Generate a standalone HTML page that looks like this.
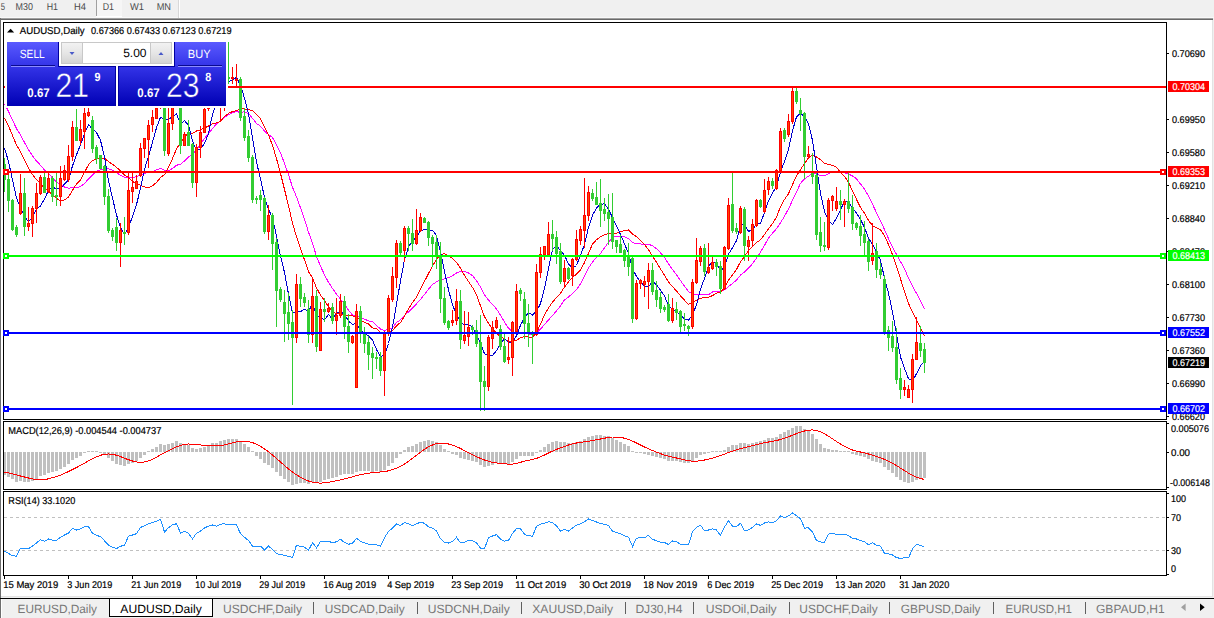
<!DOCTYPE html>
<html><head><meta charset="utf-8"><style>
html,body{margin:0;padding:0;width:1214px;height:618px;overflow:hidden;background:#F0F0F0;font-family:"Liberation Sans", sans-serif;}
</style></head><body>
<svg width="1214" height="618" viewBox="0 0 1214 618" style="display:block;font-family:&quot;Liberation Sans&quot;, sans-serif" text-rendering="geometricPrecision"><rect x="0" y="0" width="1214" height="618" fill="#F0F0F0"/>
<rect x="1" y="20" width="1211" height="577" fill="#FFFFFF"/>
<rect x="0" y="17" width="1214" height="1" fill="#F8F8F8"/>
<rect x="0" y="18" width="1213" height="1" fill="#A0A0A0"/>
<rect x="0" y="19" width="1213" height="1" fill="#696969"/>
<rect x="0" y="18" width="1" height="580" fill="#6E6E6E"/>
<rect x="1212" y="20" width="1" height="577" fill="#E3E3E3"/>
<rect x="1" y="596" width="1211" height="1" fill="#E3E3E3"/>
<rect x="0" y="598" width="1214" height="1" fill="#000000"/>
<rect x="96" y="0" width="1" height="16" fill="#A0A0A0"/>
<rect x="97" y="0" width="25" height="16" fill="#F6F6F6"/>
<rect x="96" y="16" width="26" height="1" fill="#FFFFFF"/>
<rect x="179" y="0" width="1" height="18" fill="#FFFFFF"/>
<rect x="178" y="0" width="1" height="18" fill="#D8D8D8"/>
<text x="0.7" y="10" font-size="10" fill="#4A4A4A" font-weight="normal" text-anchor="start" textLength="4.3" lengthAdjust="spacingAndGlyphs">5</text>
<text x="15.6" y="10" font-size="10" fill="#4A4A4A" font-weight="normal" text-anchor="start" textLength="17.4" lengthAdjust="spacingAndGlyphs">M30</text>
<text x="46.7" y="10" font-size="10" fill="#4A4A4A" font-weight="normal" text-anchor="start" textLength="11.3" lengthAdjust="spacingAndGlyphs">H1</text>
<text x="74" y="10" font-size="10" fill="#4A4A4A" font-weight="normal" text-anchor="start" textLength="12" lengthAdjust="spacingAndGlyphs">H4</text>
<text x="102.7" y="10" font-size="10" fill="#4A4A4A" font-weight="normal" text-anchor="start" textLength="11.3" lengthAdjust="spacingAndGlyphs">D1</text>
<text x="130" y="10" font-size="10" fill="#4A4A4A" font-weight="normal" text-anchor="start" textLength="14" lengthAdjust="spacingAndGlyphs">W1</text>
<text x="156.7" y="10" font-size="10" fill="#4A4A4A" font-weight="normal" text-anchor="start" textLength="14.3" lengthAdjust="spacingAndGlyphs">MN</text>
<g shape-rendering="crispEdges">
<rect x="3" y="22" width="1164" height="1" fill="#000"/>
<rect x="3" y="419" width="1164" height="1" fill="#000"/>
<rect x="3" y="22" width="1" height="398" fill="#000"/>
<rect x="1166" y="22" width="1" height="398" fill="#000"/>
<rect x="3" y="421" width="1164" height="1" fill="#000"/>
<rect x="3" y="489" width="1164" height="1" fill="#000"/>
<rect x="3" y="421" width="1" height="69" fill="#000"/>
<rect x="1166" y="421" width="1" height="69" fill="#000"/>
<rect x="3" y="491" width="1164" height="1" fill="#000"/>
<rect x="3" y="575" width="1164" height="1" fill="#000"/>
<rect x="3" y="491" width="1" height="85" fill="#000"/>
<rect x="1166" y="491" width="1" height="85" fill="#000"/>
</g>
<g clip-path="url(#mainclip)">
<polyline points="4.5,103.9 8.5,111.4 12.5,120.0 16.5,128.6 20.5,134.9 24.5,142.5 28.5,149.7 32.5,155.9 36.5,161.1 40.5,165.2 44.5,169.9 48.5,173.6 52.5,177.9 56.5,181.9 60.5,184.8 64.5,187.0 68.5,188.2 72.5,187.7 76.5,187.5 80.5,186.7 84.5,183.4 88.5,179.0 92.5,174.9 96.5,171.2 100.5,169.9 104.5,168.4 108.5,168.8 112.5,170.2 116.5,172.6 120.5,175.2 124.5,177.3 128.5,177.9 132.5,177.4 136.5,176.7 140.5,175.2 144.5,173.6 148.5,172.1 152.5,171.6 156.5,169.9 160.5,168.3 164.5,170.2 168.5,170.7 172.5,168.5 176.5,165.3 180.5,164.2 184.5,161.1 188.5,156.8 192.5,154.2 196.5,149.4 200.5,144.5 204.5,138.3 208.5,133.6 212.5,128.5 216.5,124.0 220.5,120.5 224.5,117.2 228.5,114.9 232.5,112.9 236.5,111.5 240.5,112.5 244.5,111.8 248.5,113.5 252.5,118.3 256.5,123.5 260.5,126.2 264.5,131.1 268.5,134.6 272.5,137.6 276.5,144.8 280.5,153.1 284.5,163.3 288.5,174.7 292.5,187.2 296.5,196.8 300.5,207.9 304.5,219.3 308.5,232.2 312.5,243.1 316.5,256.4 320.5,266.1 324.5,274.8 328.5,282.3 332.5,288.4 336.5,294.1 340.5,299.2 344.5,304.0 348.5,310.3 352.5,314.9 356.5,316.0 360.5,317.7 364.5,319.2 368.5,320.8 372.5,321.8 376.5,325.4 380.5,329.1 384.5,330.6 388.5,328.8 392.5,327.8 396.5,322.6 400.5,319.8 404.5,315.6 408.5,311.9 412.5,308.0 416.5,303.8 420.5,299.6 424.5,294.4 428.5,289.1 432.5,284.5 436.5,281.8 440.5,280.0 444.5,278.9 448.5,277.6 452.5,275.8 456.5,272.9 460.5,271.4 464.5,271.5 468.5,272.9 472.5,275.6 476.5,280.6 480.5,287.1 484.5,294.9 488.5,300.1 492.5,304.4 496.5,308.9 500.5,315.3 504.5,322.2 508.5,328.2 512.5,332.2 516.5,333.9 520.5,333.7 524.5,333.8 528.5,334.0 532.5,334.7 536.5,333.2 540.5,329.0 544.5,324.6 548.5,319.9 552.5,315.4 556.5,310.9 560.5,305.9 564.5,299.9 568.5,297.0 572.5,293.6 576.5,289.6 580.5,283.7 584.5,276.4 588.5,268.1 592.5,261.9 596.5,257.6 600.5,253.4 604.5,247.9 608.5,242.2 612.5,237.6 616.5,236.3 620.5,236.2 624.5,236.9 628.5,238.5 632.5,242.5 636.5,244.0 640.5,243.9 644.5,244.6 648.5,244.2 652.5,245.8 656.5,248.8 660.5,252.8 664.5,257.4 668.5,263.9 672.5,269.4 676.5,274.8 680.5,280.6 684.5,286.1 688.5,291.6 692.5,293.7 696.5,294.4 700.5,294.2 704.5,294.8 708.5,294.8 712.5,292.0 716.5,291.1 720.5,291.6 724.5,289.9 728.5,286.6 732.5,283.6 736.5,280.1 740.5,275.1 744.5,271.9 748.5,267.9 752.5,263.8 756.5,258.1 760.5,252.2 764.5,245.4 768.5,238.1 772.5,233.2 776.5,228.7 780.5,222.8 784.5,216.2 788.5,208.9 792.5,200.3 796.5,192.1 800.5,183.3 804.5,178.8 808.5,176.2 812.5,173.6 816.5,173.7 820.5,175.6 824.5,175.6 828.5,173.6 832.5,172.2 836.5,172.2 840.5,172.2 844.5,172.7 848.5,174.1 852.5,175.9 856.5,178.8 860.5,184.0 864.5,189.2 868.5,196.2 872.5,204.3 876.5,212.7 880.5,220.8 884.5,229.5 888.5,238.7 892.5,247.2 896.5,254.4 900.5,261.6 904.5,268.7 908.5,278.1 912.5,286.3 916.5,293.4 920.5,300.6 924.5,308.7" fill="none" stroke="#FF00FF" stroke-width="1" shape-rendering="crispEdges"/>
<polyline points="4.5,117.7 8.5,125.8 12.5,135.4 16.5,145.1 20.5,151.7 24.5,160.1 28.5,168.1 32.5,174.6 36.5,179.8 40.5,183.6 44.5,188.0 48.5,191.0 52.5,194.9 56.5,198.5 60.5,200.6 64.5,200.0 68.5,197.1 72.5,190.3 76.5,184.0 80.5,179.8 84.5,172.2 88.5,164.8 92.5,160.8 96.5,158.5 100.5,157.9 104.5,158.2 108.5,161.6 112.5,164.3 116.5,167.4 120.5,170.8 124.5,175.0 128.5,177.3 132.5,181.3 136.5,184.0 140.5,185.3 144.5,187.0 148.5,187.8 152.5,185.8 156.5,182.4 160.5,177.6 164.5,174.6 168.5,167.4 172.5,158.6 176.5,148.8 180.5,143.2 184.5,136.6 188.5,133.6 192.5,133.2 196.5,131.0 200.5,129.9 204.5,128.0 208.5,126.0 212.5,123.9 216.5,122.8 220.5,121.5 224.5,116.4 228.5,113.4 232.5,111.6 236.5,110.6 240.5,108.7 244.5,108.9 248.5,109.7 252.5,110.8 256.5,114.3 260.5,118.8 264.5,126.9 268.5,134.9 272.5,145.4 276.5,158.6 280.5,173.4 284.5,189.4 288.5,205.7 292.5,223.0 296.5,236.7 300.5,248.8 304.5,259.8 308.5,271.6 312.5,278.0 316.5,287.8 320.5,295.2 324.5,300.5 328.5,306.7 332.5,311.8 336.5,313.5 340.5,313.6 344.5,314.5 348.5,315.7 352.5,315.6 356.5,317.4 360.5,319.8 364.5,322.5 368.5,323.8 372.5,327.9 376.5,328.7 380.5,332.8 384.5,334.2 388.5,333.5 392.5,330.6 396.5,325.8 400.5,322.5 404.5,316.0 408.5,308.8 412.5,302.6 416.5,297.2 420.5,289.4 424.5,281.4 428.5,273.6 432.5,266.0 436.5,259.2 440.5,254.4 444.5,253.7 448.5,255.6 452.5,258.6 456.5,262.4 460.5,268.2 464.5,275.4 468.5,281.6 472.5,287.4 476.5,294.9 480.5,305.8 484.5,316.8 488.5,323.4 492.5,329.0 496.5,333.3 500.5,336.5 504.5,339.1 508.5,341.1 512.5,341.2 516.5,340.6 520.5,337.5 524.5,336.7 528.5,337.0 532.5,337.4 536.5,332.6 540.5,324.2 544.5,314.8 548.5,308.0 552.5,302.0 556.5,297.6 560.5,293.2 564.5,287.0 568.5,281.8 572.5,277.6 576.5,274.1 580.5,269.8 584.5,262.6 588.5,253.3 592.5,244.2 596.5,239.7 600.5,236.8 604.5,234.6 608.5,233.5 612.5,233.7 616.5,233.2 620.5,231.3 624.5,230.8 628.5,230.0 632.5,233.9 636.5,236.8 640.5,240.2 644.5,244.6 648.5,249.8 652.5,256.0 656.5,262.4 660.5,268.9 664.5,275.3 668.5,282.1 672.5,286.6 676.5,291.0 680.5,295.9 684.5,300.2 688.5,304.4 692.5,302.0 696.5,300.4 700.5,298.3 704.5,297.6 708.5,297.4 712.5,295.5 716.5,293.3 720.5,292.0 724.5,287.8 728.5,280.2 732.5,275.0 736.5,269.6 740.5,261.7 744.5,256.4 748.5,250.5 752.5,246.6 756.5,242.6 760.5,239.8 764.5,234.4 768.5,228.7 772.5,223.6 776.5,217.2 780.5,206.7 784.5,199.4 788.5,193.8 792.5,184.6 796.5,175.9 800.5,169.6 804.5,163.6 808.5,157.9 812.5,154.7 816.5,157.0 820.5,159.6 824.5,163.3 828.5,164.6 832.5,165.3 836.5,167.4 840.5,172.2 844.5,176.4 848.5,182.2 852.5,191.0 856.5,199.4 860.5,207.6 864.5,213.3 868.5,220.4 872.5,225.6 876.5,227.9 880.5,229.8 884.5,235.5 888.5,244.6 892.5,254.7 896.5,266.6 900.5,278.9 904.5,291.3 908.5,303.4 912.5,312.4 916.5,320.1 920.5,327.8 924.5,335.8" fill="none" stroke="#FF0000" stroke-width="1" shape-rendering="crispEdges"/>
<polyline points="4.5,147.9 8.5,161.5 12.5,179.8 16.5,198.1 20.5,207.5 24.5,216.9 28.5,221.5 32.5,217.3 36.5,209.1 40.5,205.9 44.5,199.1 48.5,190.1 52.5,187.7 56.5,188.3 60.5,188.5 64.5,184.1 68.5,179.7 72.5,165.9 76.5,154.7 80.5,144.9 84.5,133.5 88.5,124.7 92.5,128.9 96.5,132.5 100.5,140.3 104.5,156.9 108.5,180.5 112.5,198.1 116.5,214.9 120.5,227.3 124.5,234.7 128.5,226.7 132.5,216.9 136.5,204.7 140.5,188.3 144.5,169.3 148.5,156.3 152.5,142.3 156.5,127.7 160.5,117.3 164.5,119.7 168.5,119.3 172.5,116.7 176.5,114.1 180.5,123.9 184.5,120.7 188.5,125.1 192.5,140.7 196.5,151.1 200.5,148.5 204.5,143.5 208.5,133.5 212.5,114.3 216.5,103.3 220.5,92.1 224.5,85.1 228.5,81.7 232.5,79.9 236.5,77.3 240.5,85.5 244.5,98.1 248.5,113.9 252.5,138.3 256.5,162.3 260.5,178.7 264.5,197.5 268.5,209.1 272.5,217.9 276.5,236.1 280.5,256.1 284.5,272.5 288.5,294.1 292.5,312.9 296.5,311.7 300.5,311.5 304.5,309.3 308.5,311.5 312.5,303.3 316.5,315.7 320.5,317.9 324.5,319.7 328.5,314.5 332.5,319.3 336.5,313.1 340.5,311.5 344.5,314.5 348.5,321.1 352.5,324.3 356.5,323.5 360.5,329.9 364.5,333.3 368.5,335.9 372.5,340.1 376.5,349.5 380.5,356.9 384.5,354.7 388.5,343.5 392.5,327.3 396.5,304.3 400.5,280.7 404.5,259.9 408.5,246.9 412.5,240.3 416.5,237.7 420.5,230.7 424.5,229.5 428.5,230.3 432.5,230.3 436.5,235.5 440.5,251.7 444.5,271.7 448.5,289.7 452.5,305.1 456.5,314.1 460.5,322.3 464.5,324.9 468.5,324.9 472.5,326.7 476.5,335.1 480.5,343.5 484.5,353.7 488.5,355.7 492.5,355.3 496.5,350.7 500.5,343.7 504.5,338.7 508.5,342.7 512.5,341.7 516.5,335.9 520.5,325.3 524.5,317.7 528.5,312.7 532.5,315.1 536.5,311.3 540.5,303.5 544.5,288.1 548.5,268.5 552.5,249.3 556.5,245.5 560.5,250.9 564.5,255.3 568.5,264.1 572.5,268.3 576.5,265.5 580.5,255.1 584.5,244.5 588.5,227.3 592.5,215.1 596.5,208.1 600.5,204.3 604.5,203.9 608.5,209.1 612.5,217.7 616.5,226.1 620.5,234.5 624.5,243.9 628.5,253.5 632.5,268.9 636.5,276.3 640.5,281.9 644.5,286.1 648.5,286.9 652.5,281.5 656.5,284.7 660.5,290.3 664.5,295.9 668.5,305.9 672.5,309.3 676.5,311.9 680.5,315.5 684.5,318.7 688.5,320.3 692.5,315.1 696.5,304.7 700.5,289.1 704.5,278.3 708.5,266.1 712.5,262.1 716.5,263.3 720.5,271.3 724.5,266.5 728.5,254.1 732.5,247.7 736.5,240.7 740.5,224.7 744.5,224.3 748.5,231.3 752.5,230.1 756.5,223.9 760.5,223.5 764.5,212.5 768.5,200.7 772.5,192.9 776.5,186.9 780.5,171.9 784.5,161.5 788.5,149.5 792.5,130.7 796.5,116.9 800.5,113.3 804.5,116.9 808.5,123.5 812.5,140.5 816.5,167.1 820.5,193.5 824.5,211.5 828.5,220.7 832.5,224.7 836.5,218.1 840.5,209.9 844.5,200.9 848.5,202.5 852.5,207.9 856.5,213.1 860.5,219.3 864.5,227.5 868.5,238.1 872.5,244.1 876.5,252.5 880.5,260.3 884.5,278.1 888.5,293.3 892.5,312.1 896.5,334.1 900.5,357.1 904.5,368.3 908.5,378.7 912.5,381.1 916.5,373.7 920.5,365.9 924.5,360.9" fill="none" stroke="#0000CD" stroke-width="1" shape-rendering="crispEdges"/>
</g>
<g shape-rendering="crispEdges" clip-path="url(#mainclip)">
<defs><clipPath id="mainclip"><rect x="4" y="23" width="1162" height="396"/></clipPath><clipPath id="macdclip"><rect x="4" y="422" width="1162" height="67"/></clipPath><clipPath id="rsiclip"><rect x="4" y="492" width="1162" height="83"/></clipPath></defs>
<rect x="4" y="158" width="1" height="34" fill="#32CD32"/>
<rect x="3" y="164" width="3" height="16" fill="#32CD32"/>
<rect x="8" y="174" width="1" height="38" fill="#32CD32"/>
<rect x="7" y="179" width="3" height="22" fill="#32CD32"/>
<rect x="12" y="199" width="1" height="32" fill="#32CD32"/>
<rect x="11" y="200" width="3" height="30" fill="#32CD32"/>
<rect x="16" y="225" width="1" height="12" fill="#32CD32"/>
<rect x="15" y="227" width="3" height="8" fill="#32CD32"/>
<rect x="20" y="174" width="1" height="41" fill="#FF0000"/>
<rect x="19" y="193" width="3" height="21" fill="#FF0000"/>
<rect x="20" y="194" width="1" height="19" fill="#FF4500"/>
<rect x="24" y="178" width="1" height="58" fill="#32CD32"/>
<rect x="23" y="193" width="3" height="34" fill="#32CD32"/>
<rect x="28" y="207" width="1" height="24" fill="#FF0000"/>
<rect x="27" y="223" width="3" height="4" fill="#FF0000"/>
<rect x="28" y="224" width="1" height="2" fill="#FF4500"/>
<rect x="32" y="206" width="1" height="31" fill="#FF0000"/>
<rect x="31" y="208" width="3" height="16" fill="#FF0000"/>
<rect x="32" y="209" width="1" height="14" fill="#FF4500"/>
<rect x="36" y="183" width="1" height="40" fill="#FF0000"/>
<rect x="35" y="193" width="3" height="16" fill="#FF0000"/>
<rect x="36" y="194" width="1" height="14" fill="#FF4500"/>
<rect x="40" y="175" width="1" height="20" fill="#FF0000"/>
<rect x="39" y="177" width="3" height="17" fill="#FF0000"/>
<rect x="40" y="178" width="1" height="15" fill="#FF4500"/>
<rect x="44" y="171" width="1" height="22" fill="#32CD32"/>
<rect x="43" y="177" width="3" height="16" fill="#32CD32"/>
<rect x="48" y="173" width="1" height="20" fill="#FF0000"/>
<rect x="47" y="178" width="3" height="14" fill="#FF0000"/>
<rect x="48" y="179" width="1" height="12" fill="#FF4500"/>
<rect x="52" y="176" width="1" height="26" fill="#32CD32"/>
<rect x="51" y="178" width="3" height="19" fill="#32CD32"/>
<rect x="56" y="172" width="1" height="34" fill="#32CD32"/>
<rect x="55" y="195" width="3" height="2" fill="#32CD32"/>
<rect x="60" y="166" width="1" height="40" fill="#FF0000"/>
<rect x="59" y="178" width="3" height="19" fill="#FF0000"/>
<rect x="60" y="179" width="1" height="17" fill="#FF4500"/>
<rect x="64" y="165" width="1" height="16" fill="#FF0000"/>
<rect x="63" y="170" width="3" height="10" fill="#FF0000"/>
<rect x="64" y="171" width="1" height="8" fill="#FF4500"/>
<rect x="68" y="145" width="1" height="37" fill="#FF0000"/>
<rect x="67" y="156" width="3" height="24" fill="#FF0000"/>
<rect x="68" y="157" width="1" height="22" fill="#FF4500"/>
<rect x="72" y="121" width="1" height="40" fill="#FF0000"/>
<rect x="71" y="127" width="3" height="30" fill="#FF0000"/>
<rect x="72" y="128" width="1" height="28" fill="#FF4500"/>
<rect x="76" y="109" width="1" height="32" fill="#32CD32"/>
<rect x="75" y="127" width="3" height="14" fill="#32CD32"/>
<rect x="80" y="120" width="1" height="25" fill="#FF0000"/>
<rect x="79" y="129" width="3" height="12" fill="#FF0000"/>
<rect x="80" y="130" width="1" height="10" fill="#FF4500"/>
<rect x="84" y="108" width="1" height="41" fill="#FF0000"/>
<rect x="83" y="113" width="3" height="19" fill="#FF0000"/>
<rect x="84" y="114" width="1" height="17" fill="#FF4500"/>
<rect x="88" y="108" width="1" height="9" fill="#FF0000"/>
<rect x="87" y="112" width="3" height="4" fill="#FF0000"/>
<rect x="88" y="113" width="1" height="2" fill="#FF4500"/>
<rect x="92" y="116" width="1" height="37" fill="#32CD32"/>
<rect x="91" y="120" width="3" height="29" fill="#32CD32"/>
<rect x="96" y="145" width="1" height="19" fill="#32CD32"/>
<rect x="95" y="147" width="3" height="12" fill="#32CD32"/>
<rect x="100" y="155" width="1" height="14" fill="#32CD32"/>
<rect x="99" y="155" width="3" height="14" fill="#32CD32"/>
<rect x="104" y="165" width="1" height="40" fill="#32CD32"/>
<rect x="103" y="166" width="3" height="31" fill="#32CD32"/>
<rect x="108" y="189" width="1" height="44" fill="#32CD32"/>
<rect x="107" y="196" width="3" height="35" fill="#32CD32"/>
<rect x="112" y="228" width="1" height="13" fill="#32CD32"/>
<rect x="111" y="230" width="3" height="7" fill="#32CD32"/>
<rect x="116" y="218" width="1" height="33" fill="#32CD32"/>
<rect x="115" y="227" width="3" height="16" fill="#32CD32"/>
<rect x="120" y="223" width="1" height="44" fill="#FF0000"/>
<rect x="119" y="230" width="3" height="13" fill="#FF0000"/>
<rect x="120" y="231" width="1" height="11" fill="#FF4500"/>
<rect x="124" y="217" width="1" height="28" fill="#32CD32"/>
<rect x="123" y="232" width="3" height="2" fill="#32CD32"/>
<rect x="128" y="172" width="1" height="63" fill="#FF0000"/>
<rect x="127" y="190" width="3" height="43" fill="#FF0000"/>
<rect x="128" y="191" width="1" height="41" fill="#FF4500"/>
<rect x="132" y="172" width="1" height="31" fill="#FF0000"/>
<rect x="131" y="187" width="3" height="5" fill="#FF0000"/>
<rect x="132" y="188" width="1" height="3" fill="#FF4500"/>
<rect x="136" y="175" width="1" height="14" fill="#FF0000"/>
<rect x="135" y="181" width="3" height="8" fill="#FF0000"/>
<rect x="136" y="182" width="1" height="6" fill="#FF4500"/>
<rect x="140" y="143" width="1" height="34" fill="#FF0000"/>
<rect x="139" y="148" width="3" height="28" fill="#FF0000"/>
<rect x="140" y="149" width="1" height="26" fill="#FF4500"/>
<rect x="144" y="138" width="1" height="20" fill="#FF0000"/>
<rect x="143" y="138" width="3" height="11" fill="#FF0000"/>
<rect x="144" y="139" width="1" height="9" fill="#FF4500"/>
<rect x="148" y="120" width="1" height="48" fill="#FF0000"/>
<rect x="147" y="125" width="3" height="15" fill="#FF0000"/>
<rect x="148" y="126" width="1" height="13" fill="#FF4500"/>
<rect x="152" y="110" width="1" height="22" fill="#FF0000"/>
<rect x="151" y="117" width="3" height="8" fill="#FF0000"/>
<rect x="152" y="118" width="1" height="6" fill="#FF4500"/>
<rect x="156" y="104" width="1" height="15" fill="#FF0000"/>
<rect x="155" y="108" width="3" height="11" fill="#FF0000"/>
<rect x="156" y="109" width="1" height="9" fill="#FF4500"/>
<rect x="160" y="92" width="1" height="17" fill="#FF0000"/>
<rect x="159" y="96" width="3" height="9" fill="#FF0000"/>
<rect x="160" y="97" width="1" height="7" fill="#FF4500"/>
<rect x="164" y="94" width="1" height="62" fill="#32CD32"/>
<rect x="163" y="98" width="3" height="53" fill="#32CD32"/>
<rect x="168" y="108" width="1" height="48" fill="#FF0000"/>
<rect x="167" y="123" width="3" height="31" fill="#FF0000"/>
<rect x="168" y="124" width="1" height="29" fill="#FF4500"/>
<rect x="172" y="100" width="1" height="30" fill="#FF0000"/>
<rect x="171" y="104" width="3" height="20" fill="#FF0000"/>
<rect x="172" y="105" width="1" height="18" fill="#FF4500"/>
<rect x="176" y="90" width="1" height="17" fill="#FF0000"/>
<rect x="175" y="95" width="3" height="10" fill="#FF0000"/>
<rect x="176" y="96" width="1" height="8" fill="#FF4500"/>
<rect x="180" y="96" width="1" height="58" fill="#32CD32"/>
<rect x="179" y="100" width="3" height="46" fill="#32CD32"/>
<rect x="184" y="132" width="1" height="14" fill="#FF0000"/>
<rect x="183" y="134" width="3" height="12" fill="#FF0000"/>
<rect x="184" y="135" width="1" height="10" fill="#FF4500"/>
<rect x="188" y="120" width="1" height="26" fill="#32CD32"/>
<rect x="187" y="132" width="3" height="14" fill="#32CD32"/>
<rect x="192" y="143" width="1" height="45" fill="#32CD32"/>
<rect x="191" y="144" width="3" height="39" fill="#32CD32"/>
<rect x="196" y="144" width="1" height="53" fill="#FF0000"/>
<rect x="195" y="147" width="3" height="36" fill="#FF0000"/>
<rect x="196" y="148" width="1" height="34" fill="#FF4500"/>
<rect x="200" y="126" width="1" height="32" fill="#FF0000"/>
<rect x="199" y="132" width="3" height="16" fill="#FF0000"/>
<rect x="200" y="133" width="1" height="14" fill="#FF4500"/>
<rect x="204" y="100" width="1" height="33" fill="#FF0000"/>
<rect x="203" y="109" width="3" height="24" fill="#FF0000"/>
<rect x="204" y="110" width="1" height="22" fill="#FF4500"/>
<rect x="208" y="90" width="1" height="21" fill="#FF0000"/>
<rect x="207" y="95" width="3" height="14" fill="#FF0000"/>
<rect x="208" y="96" width="1" height="12" fill="#FF4500"/>
<rect x="212" y="82" width="1" height="19" fill="#FF0000"/>
<rect x="211" y="86" width="3" height="10" fill="#FF0000"/>
<rect x="212" y="87" width="1" height="8" fill="#FF4500"/>
<rect x="216" y="80" width="1" height="25" fill="#32CD32"/>
<rect x="215" y="86" width="3" height="7" fill="#32CD32"/>
<rect x="220" y="70" width="1" height="52" fill="#FF0000"/>
<rect x="219" y="76" width="3" height="11" fill="#FF0000"/>
<rect x="220" y="77" width="1" height="9" fill="#FF4500"/>
<rect x="224" y="70" width="1" height="41" fill="#FF0000"/>
<rect x="223" y="74" width="3" height="7" fill="#FF0000"/>
<rect x="224" y="75" width="1" height="5" fill="#FF4500"/>
<rect x="228" y="42" width="1" height="42" fill="#32CD32"/>
<rect x="227" y="77" width="3" height="2" fill="#32CD32"/>
<rect x="232" y="67" width="1" height="17" fill="#FF0000"/>
<rect x="231" y="77" width="3" height="2" fill="#FF0000"/>
<rect x="236" y="64" width="1" height="23" fill="#FF0000"/>
<rect x="235" y="79" width="3" height="2" fill="#FF0000"/>
<rect x="240" y="77" width="1" height="44" fill="#32CD32"/>
<rect x="239" y="79" width="3" height="39" fill="#32CD32"/>
<rect x="244" y="108" width="1" height="33" fill="#32CD32"/>
<rect x="243" y="116" width="3" height="22" fill="#32CD32"/>
<rect x="248" y="130" width="1" height="32" fill="#32CD32"/>
<rect x="247" y="136" width="3" height="22" fill="#32CD32"/>
<rect x="252" y="155" width="1" height="48" fill="#32CD32"/>
<rect x="251" y="157" width="3" height="43" fill="#32CD32"/>
<rect x="256" y="196" width="1" height="8" fill="#32CD32"/>
<rect x="255" y="198" width="3" height="2" fill="#32CD32"/>
<rect x="260" y="190" width="1" height="21" fill="#32CD32"/>
<rect x="259" y="195" width="3" height="5" fill="#32CD32"/>
<rect x="264" y="197" width="1" height="37" fill="#32CD32"/>
<rect x="263" y="198" width="3" height="34" fill="#32CD32"/>
<rect x="268" y="205" width="1" height="35" fill="#FF0000"/>
<rect x="267" y="215" width="3" height="17" fill="#FF0000"/>
<rect x="268" y="216" width="1" height="15" fill="#FF4500"/>
<rect x="272" y="213" width="1" height="57" fill="#32CD32"/>
<rect x="271" y="215" width="3" height="29" fill="#32CD32"/>
<rect x="276" y="238" width="1" height="89" fill="#32CD32"/>
<rect x="275" y="242" width="3" height="49" fill="#32CD32"/>
<rect x="280" y="287" width="1" height="15" fill="#32CD32"/>
<rect x="279" y="289" width="3" height="11" fill="#32CD32"/>
<rect x="284" y="290" width="1" height="52" fill="#32CD32"/>
<rect x="283" y="302" width="3" height="12" fill="#32CD32"/>
<rect x="288" y="293" width="1" height="47" fill="#32CD32"/>
<rect x="287" y="312" width="3" height="12" fill="#32CD32"/>
<rect x="292" y="310" width="1" height="95" fill="#32CD32"/>
<rect x="291" y="322" width="3" height="16" fill="#32CD32"/>
<rect x="296" y="274" width="1" height="69" fill="#FF0000"/>
<rect x="295" y="284" width="3" height="54" fill="#FF0000"/>
<rect x="296" y="285" width="1" height="52" fill="#FF4500"/>
<rect x="300" y="277" width="1" height="30" fill="#32CD32"/>
<rect x="299" y="284" width="3" height="15" fill="#32CD32"/>
<rect x="304" y="293" width="1" height="14" fill="#32CD32"/>
<rect x="303" y="297" width="3" height="6" fill="#32CD32"/>
<rect x="308" y="300" width="1" height="43" fill="#32CD32"/>
<rect x="307" y="309" width="3" height="26" fill="#32CD32"/>
<rect x="312" y="278" width="1" height="65" fill="#FF0000"/>
<rect x="311" y="296" width="3" height="39" fill="#FF0000"/>
<rect x="312" y="297" width="1" height="37" fill="#FF4500"/>
<rect x="316" y="290" width="1" height="62" fill="#32CD32"/>
<rect x="315" y="296" width="3" height="51" fill="#32CD32"/>
<rect x="320" y="302" width="1" height="49" fill="#FF0000"/>
<rect x="319" y="309" width="3" height="42" fill="#FF0000"/>
<rect x="320" y="310" width="1" height="40" fill="#FF4500"/>
<rect x="324" y="298" width="1" height="24" fill="#32CD32"/>
<rect x="323" y="309" width="3" height="3" fill="#32CD32"/>
<rect x="328" y="303" width="1" height="10" fill="#FF0000"/>
<rect x="327" y="308" width="3" height="4" fill="#FF0000"/>
<rect x="328" y="309" width="1" height="2" fill="#FF4500"/>
<rect x="332" y="303" width="1" height="21" fill="#32CD32"/>
<rect x="331" y="307" width="3" height="14" fill="#32CD32"/>
<rect x="336" y="298" width="1" height="37" fill="#FF0000"/>
<rect x="335" y="315" width="3" height="6" fill="#FF0000"/>
<rect x="336" y="316" width="1" height="4" fill="#FF4500"/>
<rect x="340" y="294" width="1" height="24" fill="#FF0000"/>
<rect x="339" y="301" width="3" height="15" fill="#FF0000"/>
<rect x="340" y="302" width="1" height="13" fill="#FF4500"/>
<rect x="344" y="296" width="1" height="43" fill="#32CD32"/>
<rect x="343" y="301" width="3" height="26" fill="#32CD32"/>
<rect x="348" y="314" width="1" height="39" fill="#32CD32"/>
<rect x="347" y="326" width="3" height="16" fill="#32CD32"/>
<rect x="352" y="335" width="1" height="9" fill="#FF0000"/>
<rect x="351" y="336" width="3" height="7" fill="#FF0000"/>
<rect x="352" y="337" width="1" height="5" fill="#FF4500"/>
<rect x="356" y="304" width="1" height="84" fill="#FF0000"/>
<rect x="355" y="311" width="3" height="77" fill="#FF0000"/>
<rect x="356" y="312" width="1" height="75" fill="#FF4500"/>
<rect x="360" y="306" width="1" height="37" fill="#32CD32"/>
<rect x="359" y="311" width="3" height="23" fill="#32CD32"/>
<rect x="364" y="327" width="1" height="26" fill="#32CD32"/>
<rect x="363" y="332" width="3" height="12" fill="#32CD32"/>
<rect x="368" y="336" width="1" height="34" fill="#32CD32"/>
<rect x="367" y="342" width="3" height="13" fill="#32CD32"/>
<rect x="372" y="347" width="1" height="32" fill="#32CD32"/>
<rect x="371" y="353" width="3" height="5" fill="#32CD32"/>
<rect x="376" y="352" width="1" height="17" fill="#32CD32"/>
<rect x="375" y="357" width="3" height="2" fill="#32CD32"/>
<rect x="380" y="352" width="1" height="24" fill="#32CD32"/>
<rect x="379" y="357" width="3" height="14" fill="#32CD32"/>
<rect x="384" y="331" width="1" height="65" fill="#FF0000"/>
<rect x="383" y="332" width="3" height="39" fill="#FF0000"/>
<rect x="384" y="333" width="1" height="37" fill="#FF4500"/>
<rect x="388" y="295" width="1" height="41" fill="#FF0000"/>
<rect x="387" y="298" width="3" height="35" fill="#FF0000"/>
<rect x="388" y="299" width="1" height="33" fill="#FF4500"/>
<rect x="392" y="267" width="1" height="35" fill="#FF0000"/>
<rect x="391" y="276" width="3" height="24" fill="#FF0000"/>
<rect x="392" y="277" width="1" height="22" fill="#FF4500"/>
<rect x="396" y="240" width="1" height="48" fill="#FF0000"/>
<rect x="395" y="243" width="3" height="35" fill="#FF0000"/>
<rect x="396" y="244" width="1" height="33" fill="#FF4500"/>
<rect x="400" y="241" width="1" height="14" fill="#32CD32"/>
<rect x="399" y="243" width="3" height="10" fill="#32CD32"/>
<rect x="404" y="226" width="1" height="36" fill="#FF0000"/>
<rect x="403" y="228" width="3" height="23" fill="#FF0000"/>
<rect x="404" y="229" width="1" height="21" fill="#FF4500"/>
<rect x="408" y="226" width="1" height="25" fill="#32CD32"/>
<rect x="407" y="228" width="3" height="6" fill="#32CD32"/>
<rect x="412" y="219" width="1" height="32" fill="#32CD32"/>
<rect x="411" y="233" width="3" height="11" fill="#32CD32"/>
<rect x="416" y="209" width="1" height="36" fill="#FF0000"/>
<rect x="415" y="230" width="3" height="14" fill="#FF0000"/>
<rect x="416" y="231" width="1" height="12" fill="#FF4500"/>
<rect x="420" y="213" width="1" height="19" fill="#FF0000"/>
<rect x="419" y="217" width="3" height="14" fill="#FF0000"/>
<rect x="420" y="218" width="1" height="12" fill="#FF4500"/>
<rect x="424" y="217" width="1" height="6" fill="#32CD32"/>
<rect x="423" y="218" width="3" height="5" fill="#32CD32"/>
<rect x="428" y="221" width="1" height="25" fill="#32CD32"/>
<rect x="427" y="222" width="3" height="16" fill="#32CD32"/>
<rect x="432" y="235" width="1" height="32" fill="#32CD32"/>
<rect x="431" y="237" width="3" height="7" fill="#32CD32"/>
<rect x="436" y="235" width="1" height="34" fill="#32CD32"/>
<rect x="435" y="242" width="3" height="15" fill="#32CD32"/>
<rect x="440" y="242" width="1" height="71" fill="#32CD32"/>
<rect x="439" y="255" width="3" height="44" fill="#32CD32"/>
<rect x="444" y="287" width="1" height="38" fill="#32CD32"/>
<rect x="443" y="298" width="3" height="25" fill="#32CD32"/>
<rect x="448" y="320" width="1" height="10" fill="#32CD32"/>
<rect x="447" y="321" width="3" height="7" fill="#32CD32"/>
<rect x="452" y="310" width="1" height="16" fill="#FF0000"/>
<rect x="451" y="320" width="3" height="3" fill="#FF0000"/>
<rect x="452" y="321" width="1" height="1" fill="#FF4500"/>
<rect x="456" y="289" width="1" height="36" fill="#FF0000"/>
<rect x="455" y="301" width="3" height="20" fill="#FF0000"/>
<rect x="456" y="302" width="1" height="18" fill="#FF4500"/>
<rect x="460" y="290" width="1" height="59" fill="#32CD32"/>
<rect x="459" y="301" width="3" height="39" fill="#32CD32"/>
<rect x="464" y="311" width="1" height="33" fill="#FF0000"/>
<rect x="463" y="335" width="3" height="6" fill="#FF0000"/>
<rect x="464" y="336" width="1" height="4" fill="#FF4500"/>
<rect x="468" y="312" width="1" height="34" fill="#FF0000"/>
<rect x="467" y="327" width="3" height="10" fill="#FF0000"/>
<rect x="468" y="328" width="1" height="8" fill="#FF4500"/>
<rect x="472" y="325" width="1" height="10" fill="#32CD32"/>
<rect x="471" y="327" width="3" height="3" fill="#32CD32"/>
<rect x="476" y="320" width="1" height="27" fill="#32CD32"/>
<rect x="475" y="330" width="3" height="14" fill="#32CD32"/>
<rect x="480" y="315" width="1" height="96" fill="#32CD32"/>
<rect x="479" y="342" width="3" height="40" fill="#32CD32"/>
<rect x="484" y="366" width="1" height="45" fill="#32CD32"/>
<rect x="483" y="381" width="3" height="6" fill="#32CD32"/>
<rect x="488" y="335" width="1" height="56" fill="#FF0000"/>
<rect x="487" y="337" width="3" height="50" fill="#FF0000"/>
<rect x="488" y="338" width="1" height="48" fill="#FF4500"/>
<rect x="492" y="321" width="1" height="28" fill="#FF0000"/>
<rect x="491" y="327" width="3" height="12" fill="#FF0000"/>
<rect x="492" y="328" width="1" height="10" fill="#FF4500"/>
<rect x="496" y="317" width="1" height="12" fill="#FF0000"/>
<rect x="495" y="320" width="3" height="8" fill="#FF0000"/>
<rect x="496" y="321" width="1" height="6" fill="#FF4500"/>
<rect x="500" y="325" width="1" height="25" fill="#32CD32"/>
<rect x="499" y="329" width="3" height="18" fill="#32CD32"/>
<rect x="504" y="332" width="1" height="31" fill="#32CD32"/>
<rect x="503" y="346" width="3" height="16" fill="#32CD32"/>
<rect x="508" y="337" width="1" height="27" fill="#FF0000"/>
<rect x="507" y="357" width="3" height="3" fill="#FF0000"/>
<rect x="508" y="358" width="1" height="1" fill="#FF4500"/>
<rect x="512" y="321" width="1" height="55" fill="#FF0000"/>
<rect x="511" y="322" width="3" height="36" fill="#FF0000"/>
<rect x="512" y="323" width="1" height="34" fill="#FF4500"/>
<rect x="516" y="284" width="1" height="49" fill="#FF0000"/>
<rect x="515" y="291" width="3" height="41" fill="#FF0000"/>
<rect x="516" y="292" width="1" height="39" fill="#FF4500"/>
<rect x="520" y="288" width="1" height="13" fill="#32CD32"/>
<rect x="519" y="290" width="3" height="4" fill="#32CD32"/>
<rect x="524" y="292" width="1" height="47" fill="#32CD32"/>
<rect x="523" y="299" width="3" height="25" fill="#32CD32"/>
<rect x="528" y="304" width="1" height="43" fill="#32CD32"/>
<rect x="527" y="323" width="3" height="10" fill="#32CD32"/>
<rect x="532" y="331" width="1" height="33" fill="#32CD32"/>
<rect x="531" y="332" width="3" height="3" fill="#32CD32"/>
<rect x="536" y="264" width="1" height="72" fill="#FF0000"/>
<rect x="535" y="272" width="3" height="63" fill="#FF0000"/>
<rect x="536" y="273" width="1" height="61" fill="#FF4500"/>
<rect x="540" y="247" width="1" height="31" fill="#FF0000"/>
<rect x="539" y="254" width="3" height="19" fill="#FF0000"/>
<rect x="540" y="255" width="1" height="17" fill="#FF4500"/>
<rect x="544" y="246" width="1" height="14" fill="#FF0000"/>
<rect x="543" y="246" width="3" height="9" fill="#FF0000"/>
<rect x="544" y="247" width="1" height="7" fill="#FF4500"/>
<rect x="548" y="222" width="1" height="34" fill="#FF0000"/>
<rect x="547" y="234" width="3" height="21" fill="#FF0000"/>
<rect x="548" y="235" width="1" height="19" fill="#FF4500"/>
<rect x="552" y="220" width="1" height="31" fill="#32CD32"/>
<rect x="551" y="234" width="3" height="5" fill="#32CD32"/>
<rect x="556" y="231" width="1" height="33" fill="#32CD32"/>
<rect x="555" y="237" width="3" height="17" fill="#32CD32"/>
<rect x="560" y="243" width="1" height="41" fill="#32CD32"/>
<rect x="559" y="251" width="3" height="31" fill="#32CD32"/>
<rect x="564" y="260" width="1" height="28" fill="#FF0000"/>
<rect x="563" y="268" width="3" height="14" fill="#FF0000"/>
<rect x="564" y="269" width="1" height="12" fill="#FF4500"/>
<rect x="568" y="267" width="1" height="13" fill="#32CD32"/>
<rect x="567" y="268" width="3" height="11" fill="#32CD32"/>
<rect x="572" y="258" width="1" height="28" fill="#FF0000"/>
<rect x="571" y="259" width="3" height="17" fill="#FF0000"/>
<rect x="572" y="260" width="1" height="15" fill="#FF4500"/>
<rect x="576" y="230" width="1" height="31" fill="#FF0000"/>
<rect x="575" y="239" width="3" height="21" fill="#FF0000"/>
<rect x="576" y="240" width="1" height="19" fill="#FF4500"/>
<rect x="580" y="226" width="1" height="19" fill="#FF0000"/>
<rect x="579" y="229" width="3" height="12" fill="#FF0000"/>
<rect x="580" y="230" width="1" height="10" fill="#FF4500"/>
<rect x="584" y="178" width="1" height="70" fill="#FF0000"/>
<rect x="583" y="215" width="3" height="16" fill="#FF0000"/>
<rect x="584" y="216" width="1" height="14" fill="#FF4500"/>
<rect x="588" y="186" width="1" height="35" fill="#FF0000"/>
<rect x="587" y="192" width="3" height="24" fill="#FF0000"/>
<rect x="588" y="193" width="1" height="22" fill="#FF4500"/>
<rect x="592" y="189" width="1" height="12" fill="#32CD32"/>
<rect x="591" y="193" width="3" height="6" fill="#32CD32"/>
<rect x="596" y="182" width="1" height="23" fill="#32CD32"/>
<rect x="595" y="197" width="3" height="8" fill="#32CD32"/>
<rect x="600" y="179" width="1" height="48" fill="#32CD32"/>
<rect x="599" y="203" width="3" height="8" fill="#32CD32"/>
<rect x="604" y="198" width="1" height="23" fill="#32CD32"/>
<rect x="603" y="209" width="3" height="5" fill="#32CD32"/>
<rect x="608" y="194" width="1" height="51" fill="#32CD32"/>
<rect x="607" y="212" width="3" height="7" fill="#32CD32"/>
<rect x="612" y="193" width="1" height="56" fill="#32CD32"/>
<rect x="611" y="217" width="3" height="25" fill="#32CD32"/>
<rect x="616" y="240" width="1" height="13" fill="#32CD32"/>
<rect x="615" y="240" width="3" height="7" fill="#32CD32"/>
<rect x="620" y="235" width="1" height="18" fill="#32CD32"/>
<rect x="619" y="244" width="3" height="9" fill="#32CD32"/>
<rect x="624" y="249" width="1" height="18" fill="#32CD32"/>
<rect x="623" y="250" width="3" height="11" fill="#32CD32"/>
<rect x="628" y="243" width="1" height="33" fill="#32CD32"/>
<rect x="627" y="255" width="3" height="12" fill="#32CD32"/>
<rect x="632" y="256" width="1" height="67" fill="#32CD32"/>
<rect x="631" y="258" width="3" height="61" fill="#32CD32"/>
<rect x="636" y="280" width="1" height="40" fill="#FF0000"/>
<rect x="635" y="283" width="3" height="36" fill="#FF0000"/>
<rect x="636" y="284" width="1" height="34" fill="#FF4500"/>
<rect x="640" y="279" width="1" height="10" fill="#FF0000"/>
<rect x="639" y="280" width="3" height="4" fill="#FF0000"/>
<rect x="640" y="281" width="1" height="2" fill="#FF4500"/>
<rect x="644" y="276" width="1" height="21" fill="#FF0000"/>
<rect x="643" y="281" width="3" height="4" fill="#FF0000"/>
<rect x="644" y="282" width="1" height="2" fill="#FF4500"/>
<rect x="648" y="263" width="1" height="46" fill="#FF0000"/>
<rect x="647" y="270" width="3" height="12" fill="#FF0000"/>
<rect x="648" y="271" width="1" height="10" fill="#FF4500"/>
<rect x="652" y="263" width="1" height="32" fill="#32CD32"/>
<rect x="651" y="270" width="3" height="22" fill="#32CD32"/>
<rect x="656" y="281" width="1" height="26" fill="#32CD32"/>
<rect x="655" y="290" width="3" height="10" fill="#32CD32"/>
<rect x="660" y="292" width="1" height="21" fill="#32CD32"/>
<rect x="659" y="297" width="3" height="12" fill="#32CD32"/>
<rect x="664" y="305" width="1" height="7" fill="#32CD32"/>
<rect x="663" y="307" width="3" height="3" fill="#32CD32"/>
<rect x="668" y="294" width="1" height="28" fill="#32CD32"/>
<rect x="667" y="304" width="3" height="17" fill="#32CD32"/>
<rect x="672" y="298" width="1" height="25" fill="#FF0000"/>
<rect x="671" y="308" width="3" height="13" fill="#FF0000"/>
<rect x="672" y="309" width="1" height="11" fill="#FF4500"/>
<rect x="676" y="302" width="1" height="18" fill="#32CD32"/>
<rect x="675" y="309" width="3" height="4" fill="#32CD32"/>
<rect x="680" y="310" width="1" height="22" fill="#32CD32"/>
<rect x="679" y="311" width="3" height="16" fill="#32CD32"/>
<rect x="684" y="313" width="1" height="18" fill="#32CD32"/>
<rect x="683" y="324" width="3" height="2" fill="#32CD32"/>
<rect x="688" y="325" width="1" height="11" fill="#32CD32"/>
<rect x="687" y="326" width="3" height="3" fill="#32CD32"/>
<rect x="692" y="279" width="1" height="50" fill="#FF0000"/>
<rect x="691" y="282" width="3" height="45" fill="#FF0000"/>
<rect x="692" y="283" width="1" height="43" fill="#FF4500"/>
<rect x="696" y="238" width="1" height="46" fill="#FF0000"/>
<rect x="695" y="260" width="3" height="23" fill="#FF0000"/>
<rect x="696" y="261" width="1" height="21" fill="#FF4500"/>
<rect x="700" y="246" width="1" height="20" fill="#FF0000"/>
<rect x="699" y="248" width="3" height="14" fill="#FF0000"/>
<rect x="700" y="249" width="1" height="12" fill="#FF4500"/>
<rect x="704" y="244" width="1" height="32" fill="#32CD32"/>
<rect x="703" y="248" width="3" height="24" fill="#32CD32"/>
<rect x="708" y="243" width="1" height="31" fill="#FF0000"/>
<rect x="707" y="267" width="3" height="6" fill="#FF0000"/>
<rect x="708" y="268" width="1" height="4" fill="#FF4500"/>
<rect x="712" y="256" width="1" height="14" fill="#FF0000"/>
<rect x="711" y="262" width="3" height="7" fill="#FF0000"/>
<rect x="712" y="263" width="1" height="5" fill="#FF4500"/>
<rect x="716" y="259" width="1" height="17" fill="#32CD32"/>
<rect x="715" y="262" width="3" height="5" fill="#32CD32"/>
<rect x="720" y="261" width="1" height="33" fill="#32CD32"/>
<rect x="719" y="266" width="3" height="23" fill="#32CD32"/>
<rect x="724" y="246" width="1" height="44" fill="#FF0000"/>
<rect x="723" y="247" width="3" height="42" fill="#FF0000"/>
<rect x="724" y="248" width="1" height="40" fill="#FF4500"/>
<rect x="728" y="198" width="1" height="52" fill="#FF0000"/>
<rect x="727" y="205" width="3" height="44" fill="#FF0000"/>
<rect x="728" y="206" width="1" height="42" fill="#FF4500"/>
<rect x="732" y="172" width="1" height="61" fill="#32CD32"/>
<rect x="731" y="204" width="3" height="27" fill="#32CD32"/>
<rect x="736" y="223" width="1" height="11" fill="#32CD32"/>
<rect x="735" y="228" width="3" height="4" fill="#32CD32"/>
<rect x="740" y="206" width="1" height="28" fill="#FF0000"/>
<rect x="739" y="208" width="3" height="25" fill="#FF0000"/>
<rect x="740" y="209" width="1" height="23" fill="#FF4500"/>
<rect x="744" y="207" width="1" height="54" fill="#32CD32"/>
<rect x="743" y="209" width="3" height="37" fill="#32CD32"/>
<rect x="748" y="236" width="1" height="25" fill="#FF0000"/>
<rect x="747" y="240" width="3" height="7" fill="#FF0000"/>
<rect x="748" y="241" width="1" height="5" fill="#FF4500"/>
<rect x="752" y="219" width="1" height="27" fill="#FF0000"/>
<rect x="751" y="224" width="3" height="17" fill="#FF0000"/>
<rect x="752" y="225" width="1" height="15" fill="#FF4500"/>
<rect x="756" y="199" width="1" height="28" fill="#FF0000"/>
<rect x="755" y="200" width="3" height="26" fill="#FF0000"/>
<rect x="756" y="201" width="1" height="24" fill="#FF4500"/>
<rect x="760" y="199" width="1" height="9" fill="#32CD32"/>
<rect x="759" y="200" width="3" height="7" fill="#32CD32"/>
<rect x="764" y="179" width="1" height="34" fill="#FF0000"/>
<rect x="763" y="190" width="3" height="22" fill="#FF0000"/>
<rect x="764" y="191" width="1" height="20" fill="#FF4500"/>
<rect x="768" y="177" width="1" height="18" fill="#FF0000"/>
<rect x="767" y="181" width="3" height="9" fill="#FF0000"/>
<rect x="768" y="182" width="1" height="7" fill="#FF4500"/>
<rect x="772" y="178" width="1" height="11" fill="#32CD32"/>
<rect x="771" y="181" width="3" height="5" fill="#32CD32"/>
<rect x="776" y="169" width="1" height="21" fill="#FF0000"/>
<rect x="775" y="170" width="3" height="19" fill="#FF0000"/>
<rect x="776" y="171" width="1" height="17" fill="#FF4500"/>
<rect x="780" y="128" width="1" height="44" fill="#FF0000"/>
<rect x="779" y="131" width="3" height="40" fill="#FF0000"/>
<rect x="780" y="132" width="1" height="38" fill="#FF4500"/>
<rect x="784" y="128" width="1" height="14" fill="#32CD32"/>
<rect x="783" y="130" width="3" height="9" fill="#32CD32"/>
<rect x="788" y="114" width="1" height="23" fill="#FF0000"/>
<rect x="787" y="121" width="3" height="14" fill="#FF0000"/>
<rect x="788" y="122" width="1" height="12" fill="#FF4500"/>
<rect x="792" y="87" width="1" height="37" fill="#FF0000"/>
<rect x="791" y="91" width="3" height="31" fill="#FF0000"/>
<rect x="792" y="92" width="1" height="29" fill="#FF4500"/>
<rect x="796" y="87" width="1" height="17" fill="#32CD32"/>
<rect x="795" y="91" width="3" height="11" fill="#32CD32"/>
<rect x="800" y="98" width="1" height="33" fill="#32CD32"/>
<rect x="799" y="110" width="3" height="4" fill="#32CD32"/>
<rect x="804" y="112" width="1" height="67" fill="#32CD32"/>
<rect x="803" y="113" width="3" height="44" fill="#32CD32"/>
<rect x="808" y="146" width="1" height="12" fill="#FF0000"/>
<rect x="807" y="154" width="3" height="3" fill="#FF0000"/>
<rect x="808" y="155" width="1" height="1" fill="#FF4500"/>
<rect x="812" y="153" width="1" height="31" fill="#32CD32"/>
<rect x="811" y="172" width="3" height="5" fill="#32CD32"/>
<rect x="816" y="171" width="1" height="69" fill="#32CD32"/>
<rect x="815" y="175" width="3" height="60" fill="#32CD32"/>
<rect x="820" y="217" width="1" height="35" fill="#32CD32"/>
<rect x="819" y="232" width="3" height="14" fill="#32CD32"/>
<rect x="824" y="222" width="1" height="29" fill="#32CD32"/>
<rect x="823" y="245" width="3" height="2" fill="#32CD32"/>
<rect x="828" y="198" width="1" height="52" fill="#FF0000"/>
<rect x="827" y="200" width="3" height="48" fill="#FF0000"/>
<rect x="828" y="201" width="1" height="46" fill="#FF4500"/>
<rect x="832" y="195" width="1" height="16" fill="#FF0000"/>
<rect x="831" y="196" width="3" height="5" fill="#FF0000"/>
<rect x="832" y="197" width="1" height="3" fill="#FF4500"/>
<rect x="836" y="187" width="1" height="24" fill="#FF0000"/>
<rect x="835" y="201" width="3" height="8" fill="#FF0000"/>
<rect x="836" y="202" width="1" height="6" fill="#FF4500"/>
<rect x="840" y="190" width="1" height="30" fill="#32CD32"/>
<rect x="839" y="201" width="3" height="4" fill="#32CD32"/>
<rect x="844" y="199" width="1" height="28" fill="#FF0000"/>
<rect x="843" y="201" width="3" height="4" fill="#FF0000"/>
<rect x="844" y="202" width="1" height="2" fill="#FF4500"/>
<rect x="848" y="173" width="1" height="40" fill="#32CD32"/>
<rect x="847" y="201" width="3" height="8" fill="#32CD32"/>
<rect x="852" y="195" width="1" height="35" fill="#32CD32"/>
<rect x="851" y="207" width="3" height="17" fill="#32CD32"/>
<rect x="856" y="222" width="1" height="8" fill="#32CD32"/>
<rect x="855" y="223" width="3" height="5" fill="#32CD32"/>
<rect x="860" y="215" width="1" height="31" fill="#32CD32"/>
<rect x="859" y="226" width="3" height="10" fill="#32CD32"/>
<rect x="864" y="221" width="1" height="35" fill="#32CD32"/>
<rect x="863" y="234" width="3" height="9" fill="#32CD32"/>
<rect x="868" y="239" width="1" height="32" fill="#32CD32"/>
<rect x="867" y="241" width="3" height="21" fill="#32CD32"/>
<rect x="872" y="223" width="1" height="42" fill="#FF0000"/>
<rect x="871" y="253" width="3" height="8" fill="#FF0000"/>
<rect x="872" y="254" width="1" height="6" fill="#FF4500"/>
<rect x="876" y="243" width="1" height="35" fill="#32CD32"/>
<rect x="875" y="251" width="3" height="19" fill="#32CD32"/>
<rect x="880" y="263" width="1" height="16" fill="#32CD32"/>
<rect x="879" y="269" width="3" height="6" fill="#32CD32"/>
<rect x="884" y="275" width="1" height="60" fill="#32CD32"/>
<rect x="883" y="279" width="3" height="53" fill="#32CD32"/>
<rect x="888" y="326" width="1" height="25" fill="#32CD32"/>
<rect x="887" y="330" width="3" height="8" fill="#32CD32"/>
<rect x="892" y="321" width="1" height="31" fill="#32CD32"/>
<rect x="891" y="336" width="3" height="12" fill="#32CD32"/>
<rect x="896" y="328" width="1" height="56" fill="#32CD32"/>
<rect x="895" y="347" width="3" height="33" fill="#32CD32"/>
<rect x="900" y="368" width="1" height="31" fill="#32CD32"/>
<rect x="899" y="378" width="3" height="12" fill="#32CD32"/>
<rect x="904" y="380" width="1" height="16" fill="#FF0000"/>
<rect x="903" y="387" width="3" height="3" fill="#FF0000"/>
<rect x="904" y="388" width="1" height="1" fill="#FF4500"/>
<rect x="908" y="385" width="1" height="13" fill="#FF0000"/>
<rect x="907" y="389" width="3" height="9" fill="#FF0000"/>
<rect x="908" y="390" width="1" height="7" fill="#FF4500"/>
<rect x="912" y="354" width="1" height="49" fill="#FF0000"/>
<rect x="911" y="359" width="3" height="31" fill="#FF0000"/>
<rect x="912" y="360" width="1" height="29" fill="#FF4500"/>
<rect x="916" y="317" width="1" height="43" fill="#FF0000"/>
<rect x="915" y="342" width="3" height="18" fill="#FF0000"/>
<rect x="916" y="343" width="1" height="16" fill="#FF4500"/>
<rect x="920" y="326" width="1" height="31" fill="#32CD32"/>
<rect x="919" y="343" width="3" height="8" fill="#32CD32"/>
<rect x="924" y="343" width="1" height="30" fill="#32CD32"/>
<rect x="923" y="349" width="3" height="14" fill="#32CD32"/>
</g>
<g shape-rendering="crispEdges">
<rect x="4" y="86" width="1162" height="2" fill="#FF0000"/>
<rect x="4" y="171" width="1162" height="2" fill="#FF0000"/>
<rect x="3" y="169" width="6" height="6" fill="#FF0000"/>
<rect x="5" y="171" width="2" height="2" fill="#FFFFFF"/>
<rect x="1160" y="169" width="6" height="6" fill="#FF0000"/>
<rect x="1162" y="171" width="2" height="2" fill="#FFFFFF"/>
<rect x="4" y="255" width="1162" height="2" fill="#00FF00"/>
<rect x="3" y="253" width="6" height="6" fill="#00FF00"/>
<rect x="5" y="255" width="2" height="2" fill="#FFFFFF"/>
<rect x="1160" y="253" width="6" height="6" fill="#00FF00"/>
<rect x="1162" y="255" width="2" height="2" fill="#FFFFFF"/>
<rect x="4" y="332" width="1162" height="2" fill="#0000FF"/>
<rect x="3" y="330" width="6" height="6" fill="#0000FF"/>
<rect x="5" y="332" width="2" height="2" fill="#FFFFFF"/>
<rect x="1160" y="330" width="6" height="6" fill="#0000FF"/>
<rect x="1162" y="332" width="2" height="2" fill="#FFFFFF"/>
<rect x="4" y="408" width="1162" height="2" fill="#0000FF"/>
<rect x="3" y="406" width="6" height="6" fill="#0000FF"/>
<rect x="5" y="408" width="2" height="2" fill="#FFFFFF"/>
<rect x="1160" y="406" width="6" height="6" fill="#0000FF"/>
<rect x="1162" y="408" width="2" height="2" fill="#FFFFFF"/>
</g>
<g shape-rendering="crispEdges">
<rect x="1167" y="53" width="2" height="1" fill="#000"/>
<rect x="1167" y="119" width="2" height="1" fill="#000"/>
<rect x="1167" y="152" width="2" height="1" fill="#000"/>
<rect x="1167" y="185" width="2" height="1" fill="#000"/>
<rect x="1167" y="218" width="2" height="1" fill="#000"/>
<rect x="1167" y="251" width="2" height="1" fill="#000"/>
<rect x="1167" y="284" width="2" height="1" fill="#000"/>
<rect x="1167" y="317" width="2" height="1" fill="#000"/>
<rect x="1167" y="350" width="2" height="1" fill="#000"/>
<rect x="1167" y="383" width="2" height="1" fill="#000"/>
<rect x="1167" y="416" width="2" height="1" fill="#000"/>
</g>
<text x="1172" y="57" font-size="9.8" fill="#000" font-weight="normal" text-anchor="start" textLength="33" lengthAdjust="spacingAndGlyphs" stroke="#000" stroke-width="0.2">0.70690</text>
<text x="1172" y="123" font-size="9.8" fill="#000" font-weight="normal" text-anchor="start" textLength="33" lengthAdjust="spacingAndGlyphs" stroke="#000" stroke-width="0.2">0.69950</text>
<text x="1172" y="156" font-size="9.8" fill="#000" font-weight="normal" text-anchor="start" textLength="33" lengthAdjust="spacingAndGlyphs" stroke="#000" stroke-width="0.2">0.69580</text>
<text x="1172" y="189" font-size="9.8" fill="#000" font-weight="normal" text-anchor="start" textLength="33" lengthAdjust="spacingAndGlyphs" stroke="#000" stroke-width="0.2">0.69210</text>
<text x="1172" y="222" font-size="9.8" fill="#000" font-weight="normal" text-anchor="start" textLength="33" lengthAdjust="spacingAndGlyphs" stroke="#000" stroke-width="0.2">0.68840</text>
<text x="1172" y="255" font-size="9.8" fill="#000" font-weight="normal" text-anchor="start" textLength="33" lengthAdjust="spacingAndGlyphs" stroke="#000" stroke-width="0.2">0.68470</text>
<text x="1172" y="288" font-size="9.8" fill="#000" font-weight="normal" text-anchor="start" textLength="33" lengthAdjust="spacingAndGlyphs" stroke="#000" stroke-width="0.2">0.68100</text>
<text x="1172" y="321" font-size="9.8" fill="#000" font-weight="normal" text-anchor="start" textLength="33" lengthAdjust="spacingAndGlyphs" stroke="#000" stroke-width="0.2">0.67730</text>
<text x="1172" y="354" font-size="9.8" fill="#000" font-weight="normal" text-anchor="start" textLength="33" lengthAdjust="spacingAndGlyphs" stroke="#000" stroke-width="0.2">0.67360</text>
<text x="1172" y="387" font-size="9.8" fill="#000" font-weight="normal" text-anchor="start" textLength="33" lengthAdjust="spacingAndGlyphs" stroke="#000" stroke-width="0.2">0.66990</text>
<text x="1172" y="420" font-size="9.8" fill="#000" font-weight="normal" text-anchor="start" textLength="33" lengthAdjust="spacingAndGlyphs" stroke="#000" stroke-width="0.2">0.66620</text>
<g shape-rendering="crispEdges">
<rect x="1168" y="81" width="41" height="11" fill="#FF0000"/>
<rect x="1168" y="166" width="41" height="11" fill="#FF0000"/>
<rect x="1168" y="250" width="41" height="11" fill="#00FF00"/>
<rect x="1168" y="327" width="41" height="11" fill="#0000FF"/>
<rect x="1168" y="403" width="41" height="11" fill="#0000FF"/>
<rect x="1168" y="357" width="41" height="11" fill="#000000"/>
</g>
<text x="1172.5" y="90" font-size="9.8" fill="#FFFFFF" font-weight="normal" text-anchor="start" textLength="32.5" lengthAdjust="spacingAndGlyphs" stroke="#FFFFFF" stroke-width="0.2">0.70304</text>
<text x="1172.5" y="175" font-size="9.8" fill="#FFFFFF" font-weight="normal" text-anchor="start" textLength="32.5" lengthAdjust="spacingAndGlyphs" stroke="#FFFFFF" stroke-width="0.2">0.69353</text>
<text x="1172.5" y="259" font-size="9.8" fill="#FFFFFF" font-weight="normal" text-anchor="start" textLength="32.5" lengthAdjust="spacingAndGlyphs" stroke="#FFFFFF" stroke-width="0.2">0.68413</text>
<text x="1172.5" y="336" font-size="9.8" fill="#FFFFFF" font-weight="normal" text-anchor="start" textLength="32.5" lengthAdjust="spacingAndGlyphs" stroke="#FFFFFF" stroke-width="0.2">0.67552</text>
<text x="1172.5" y="412" font-size="9.8" fill="#FFFFFF" font-weight="normal" text-anchor="start" textLength="32.5" lengthAdjust="spacingAndGlyphs" stroke="#FFFFFF" stroke-width="0.2">0.66702</text>
<text x="1172.5" y="366" font-size="9.8" fill="#FFFFFF" font-weight="normal" text-anchor="start" textLength="32.5" lengthAdjust="spacingAndGlyphs" stroke="#FFFFFF" stroke-width="0.2">0.67219</text>
<polygon points="7,32.6 10.6,28.7 14.2,32.6" fill="#000"/>
<text x="19.8" y="34" font-size="10" fill="#000" font-weight="normal" text-anchor="start" textLength="64.8" lengthAdjust="spacingAndGlyphs" stroke="#000" stroke-width="0.2">AUDUSD,Daily</text>
<text x="91" y="34" font-size="10" fill="#000" font-weight="normal" text-anchor="start" textLength="140.6" lengthAdjust="spacingAndGlyphs" stroke="#000" stroke-width="0.2">0.67366 0.67433 0.67123 0.67219</text>
<g shape-rendering="crispEdges">
<rect x="4" y="576" width="1" height="3" fill="#000"/>
<rect x="68" y="576" width="1" height="3" fill="#000"/>
<rect x="132" y="576" width="1" height="3" fill="#000"/>
<rect x="196" y="576" width="1" height="3" fill="#000"/>
<rect x="260" y="576" width="1" height="3" fill="#000"/>
<rect x="324" y="576" width="1" height="3" fill="#000"/>
<rect x="388" y="576" width="1" height="3" fill="#000"/>
<rect x="452" y="576" width="1" height="3" fill="#000"/>
<rect x="516" y="576" width="1" height="3" fill="#000"/>
<rect x="580" y="576" width="1" height="3" fill="#000"/>
<rect x="644" y="576" width="1" height="3" fill="#000"/>
<rect x="708" y="576" width="1" height="3" fill="#000"/>
<rect x="772" y="576" width="1" height="3" fill="#000"/>
<rect x="836" y="576" width="1" height="3" fill="#000"/>
<rect x="900" y="576" width="1" height="3" fill="#000"/>
</g>
<text x="3.2" y="588" font-size="9.8" fill="#000" font-weight="normal" text-anchor="start" textLength="55" lengthAdjust="spacingAndGlyphs" stroke="#000" stroke-width="0.2">15 May 2019</text>
<text x="67.2" y="588" font-size="9.8" fill="#000" font-weight="normal" text-anchor="start" textLength="45" lengthAdjust="spacingAndGlyphs" stroke="#000" stroke-width="0.2">3 Jun 2019</text>
<text x="131.2" y="588" font-size="9.8" fill="#000" font-weight="normal" text-anchor="start" textLength="50" lengthAdjust="spacingAndGlyphs" stroke="#000" stroke-width="0.2">21 Jun 2019</text>
<text x="195.2" y="588" font-size="9.8" fill="#000" font-weight="normal" text-anchor="start" textLength="46" lengthAdjust="spacingAndGlyphs" stroke="#000" stroke-width="0.2">10 Jul 2019</text>
<text x="259.2" y="588" font-size="9.8" fill="#000" font-weight="normal" text-anchor="start" textLength="46" lengthAdjust="spacingAndGlyphs" stroke="#000" stroke-width="0.2">29 Jul 2019</text>
<text x="323.2" y="588" font-size="9.8" fill="#000" font-weight="normal" text-anchor="start" textLength="53" lengthAdjust="spacingAndGlyphs" stroke="#000" stroke-width="0.2">16 Aug 2019</text>
<text x="387.2" y="588" font-size="9.8" fill="#000" font-weight="normal" text-anchor="start" textLength="47" lengthAdjust="spacingAndGlyphs" stroke="#000" stroke-width="0.2">4 Sep 2019</text>
<text x="451.2" y="588" font-size="9.8" fill="#000" font-weight="normal" text-anchor="start" textLength="52" lengthAdjust="spacingAndGlyphs" stroke="#000" stroke-width="0.2">23 Sep 2019</text>
<text x="515.2" y="588" font-size="9.8" fill="#000" font-weight="normal" text-anchor="start" textLength="51" lengthAdjust="spacingAndGlyphs" stroke="#000" stroke-width="0.2">11 Oct 2019</text>
<text x="579.2" y="588" font-size="9.8" fill="#000" font-weight="normal" text-anchor="start" textLength="52" lengthAdjust="spacingAndGlyphs" stroke="#000" stroke-width="0.2">30 Oct 2019</text>
<text x="643.2" y="588" font-size="9.8" fill="#000" font-weight="normal" text-anchor="start" textLength="54" lengthAdjust="spacingAndGlyphs" stroke="#000" stroke-width="0.2">18 Nov 2019</text>
<text x="707.2" y="588" font-size="9.8" fill="#000" font-weight="normal" text-anchor="start" textLength="47" lengthAdjust="spacingAndGlyphs" stroke="#000" stroke-width="0.2">6 Dec 2019</text>
<text x="771.2" y="588" font-size="9.8" fill="#000" font-weight="normal" text-anchor="start" textLength="52" lengthAdjust="spacingAndGlyphs" stroke="#000" stroke-width="0.2">25 Dec 2019</text>
<text x="835.2" y="588" font-size="9.8" fill="#000" font-weight="normal" text-anchor="start" textLength="50" lengthAdjust="spacingAndGlyphs" stroke="#000" stroke-width="0.2">13 Jan 2020</text>
<text x="899.2" y="588" font-size="9.8" fill="#000" font-weight="normal" text-anchor="start" textLength="50" lengthAdjust="spacingAndGlyphs" stroke="#000" stroke-width="0.2">31 Jan 2020</text>
<g shape-rendering="crispEdges" clip-path="url(#macdclip)">
<rect x="3" y="452" width="3" height="23" fill="#C0C0C0"/>
<rect x="7" y="452" width="3" height="25" fill="#C0C0C0"/>
<rect x="11" y="452" width="3" height="27" fill="#C0C0C0"/>
<rect x="15" y="452" width="3" height="30" fill="#C0C0C0"/>
<rect x="19" y="452" width="3" height="29" fill="#C0C0C0"/>
<rect x="23" y="452" width="3" height="30" fill="#C0C0C0"/>
<rect x="27" y="452" width="3" height="30" fill="#C0C0C0"/>
<rect x="31" y="452" width="3" height="29" fill="#C0C0C0"/>
<rect x="35" y="452" width="3" height="27" fill="#C0C0C0"/>
<rect x="39" y="452" width="3" height="24" fill="#C0C0C0"/>
<rect x="43" y="452" width="3" height="23" fill="#C0C0C0"/>
<rect x="47" y="452" width="3" height="21" fill="#C0C0C0"/>
<rect x="51" y="452" width="3" height="20" fill="#C0C0C0"/>
<rect x="55" y="452" width="3" height="19" fill="#C0C0C0"/>
<rect x="59" y="452" width="3" height="17" fill="#C0C0C0"/>
<rect x="63" y="452" width="3" height="15" fill="#C0C0C0"/>
<rect x="67" y="452" width="3" height="12" fill="#C0C0C0"/>
<rect x="71" y="452" width="3" height="8" fill="#C0C0C0"/>
<rect x="75" y="452" width="3" height="6" fill="#C0C0C0"/>
<rect x="79" y="452" width="3" height="4" fill="#C0C0C0"/>
<rect x="83" y="452" width="3" height="1" fill="#C0C0C0"/>
<rect x="87" y="451" width="3" height="1" fill="#C0C0C0"/>
<rect x="91" y="451" width="3" height="1" fill="#C0C0C0"/>
<rect x="95" y="451" width="3" height="1" fill="#C0C0C0"/>
<rect x="99" y="452" width="3" height="1" fill="#C0C0C0"/>
<rect x="103" y="452" width="3" height="3" fill="#C0C0C0"/>
<rect x="107" y="452" width="3" height="6" fill="#C0C0C0"/>
<rect x="111" y="452" width="3" height="9" fill="#C0C0C0"/>
<rect x="115" y="452" width="3" height="12" fill="#C0C0C0"/>
<rect x="119" y="452" width="3" height="13" fill="#C0C0C0"/>
<rect x="123" y="452" width="3" height="14" fill="#C0C0C0"/>
<rect x="127" y="452" width="3" height="12" fill="#C0C0C0"/>
<rect x="131" y="452" width="3" height="11" fill="#C0C0C0"/>
<rect x="135" y="452" width="3" height="9" fill="#C0C0C0"/>
<rect x="139" y="452" width="3" height="6" fill="#C0C0C0"/>
<rect x="143" y="452" width="3" height="3" fill="#C0C0C0"/>
<rect x="147" y="451" width="3" height="1" fill="#C0C0C0"/>
<rect x="151" y="449" width="3" height="3" fill="#C0C0C0"/>
<rect x="155" y="447" width="3" height="5" fill="#C0C0C0"/>
<rect x="159" y="444" width="3" height="8" fill="#C0C0C0"/>
<rect x="163" y="445" width="3" height="7" fill="#C0C0C0"/>
<rect x="167" y="444" width="3" height="8" fill="#C0C0C0"/>
<rect x="171" y="443" width="3" height="9" fill="#C0C0C0"/>
<rect x="175" y="441" width="3" height="11" fill="#C0C0C0"/>
<rect x="179" y="443" width="3" height="9" fill="#C0C0C0"/>
<rect x="183" y="444" width="3" height="8" fill="#C0C0C0"/>
<rect x="187" y="445" width="3" height="7" fill="#C0C0C0"/>
<rect x="191" y="448" width="3" height="4" fill="#C0C0C0"/>
<rect x="195" y="449" width="3" height="3" fill="#C0C0C0"/>
<rect x="199" y="448" width="3" height="4" fill="#C0C0C0"/>
<rect x="203" y="447" width="3" height="5" fill="#C0C0C0"/>
<rect x="207" y="445" width="3" height="7" fill="#C0C0C0"/>
<rect x="211" y="443" width="3" height="9" fill="#C0C0C0"/>
<rect x="215" y="443" width="3" height="9" fill="#C0C0C0"/>
<rect x="219" y="441" width="3" height="11" fill="#C0C0C0"/>
<rect x="223" y="440" width="3" height="12" fill="#C0C0C0"/>
<rect x="227" y="439" width="3" height="13" fill="#C0C0C0"/>
<rect x="231" y="439" width="3" height="13" fill="#C0C0C0"/>
<rect x="235" y="439" width="3" height="13" fill="#C0C0C0"/>
<rect x="239" y="441" width="3" height="11" fill="#C0C0C0"/>
<rect x="243" y="444" width="3" height="8" fill="#C0C0C0"/>
<rect x="247" y="447" width="3" height="5" fill="#C0C0C0"/>
<rect x="251" y="451" width="3" height="1" fill="#C0C0C0"/>
<rect x="255" y="452" width="3" height="4" fill="#C0C0C0"/>
<rect x="259" y="452" width="3" height="7" fill="#C0C0C0"/>
<rect x="263" y="452" width="3" height="11" fill="#C0C0C0"/>
<rect x="267" y="452" width="3" height="13" fill="#C0C0C0"/>
<rect x="271" y="452" width="3" height="16" fill="#C0C0C0"/>
<rect x="275" y="452" width="3" height="20" fill="#C0C0C0"/>
<rect x="279" y="452" width="3" height="24" fill="#C0C0C0"/>
<rect x="283" y="452" width="3" height="27" fill="#C0C0C0"/>
<rect x="287" y="452" width="3" height="30" fill="#C0C0C0"/>
<rect x="291" y="452" width="3" height="33" fill="#C0C0C0"/>
<rect x="295" y="452" width="3" height="32" fill="#C0C0C0"/>
<rect x="299" y="452" width="3" height="31" fill="#C0C0C0"/>
<rect x="303" y="452" width="3" height="31" fill="#C0C0C0"/>
<rect x="307" y="452" width="3" height="32" fill="#C0C0C0"/>
<rect x="311" y="452" width="3" height="30" fill="#C0C0C0"/>
<rect x="315" y="452" width="3" height="31" fill="#C0C0C0"/>
<rect x="319" y="452" width="3" height="30" fill="#C0C0C0"/>
<rect x="323" y="452" width="3" height="28" fill="#C0C0C0"/>
<rect x="327" y="452" width="3" height="27" fill="#C0C0C0"/>
<rect x="331" y="452" width="3" height="26" fill="#C0C0C0"/>
<rect x="335" y="452" width="3" height="25" fill="#C0C0C0"/>
<rect x="339" y="452" width="3" height="23" fill="#C0C0C0"/>
<rect x="343" y="452" width="3" height="22" fill="#C0C0C0"/>
<rect x="347" y="452" width="3" height="22" fill="#C0C0C0"/>
<rect x="351" y="452" width="3" height="22" fill="#C0C0C0"/>
<rect x="355" y="452" width="3" height="20" fill="#C0C0C0"/>
<rect x="359" y="452" width="3" height="19" fill="#C0C0C0"/>
<rect x="363" y="452" width="3" height="19" fill="#C0C0C0"/>
<rect x="367" y="452" width="3" height="19" fill="#C0C0C0"/>
<rect x="371" y="452" width="3" height="20" fill="#C0C0C0"/>
<rect x="375" y="452" width="3" height="19" fill="#C0C0C0"/>
<rect x="379" y="452" width="3" height="20" fill="#C0C0C0"/>
<rect x="383" y="452" width="3" height="18" fill="#C0C0C0"/>
<rect x="387" y="452" width="3" height="14" fill="#C0C0C0"/>
<rect x="391" y="452" width="3" height="11" fill="#C0C0C0"/>
<rect x="395" y="452" width="3" height="6" fill="#C0C0C0"/>
<rect x="399" y="452" width="3" height="2" fill="#C0C0C0"/>
<rect x="403" y="450" width="3" height="2" fill="#C0C0C0"/>
<rect x="407" y="447" width="3" height="5" fill="#C0C0C0"/>
<rect x="411" y="446" width="3" height="6" fill="#C0C0C0"/>
<rect x="415" y="444" width="3" height="8" fill="#C0C0C0"/>
<rect x="419" y="442" width="3" height="10" fill="#C0C0C0"/>
<rect x="423" y="441" width="3" height="11" fill="#C0C0C0"/>
<rect x="427" y="440" width="3" height="12" fill="#C0C0C0"/>
<rect x="431" y="441" width="3" height="11" fill="#C0C0C0"/>
<rect x="435" y="442" width="3" height="10" fill="#C0C0C0"/>
<rect x="439" y="445" width="3" height="7" fill="#C0C0C0"/>
<rect x="443" y="449" width="3" height="3" fill="#C0C0C0"/>
<rect x="447" y="451" width="3" height="1" fill="#C0C0C0"/>
<rect x="451" y="452" width="3" height="2" fill="#C0C0C0"/>
<rect x="455" y="452" width="3" height="3" fill="#C0C0C0"/>
<rect x="459" y="452" width="3" height="6" fill="#C0C0C0"/>
<rect x="463" y="452" width="3" height="7" fill="#C0C0C0"/>
<rect x="467" y="452" width="3" height="8" fill="#C0C0C0"/>
<rect x="471" y="452" width="3" height="9" fill="#C0C0C0"/>
<rect x="475" y="452" width="3" height="10" fill="#C0C0C0"/>
<rect x="479" y="452" width="3" height="13" fill="#C0C0C0"/>
<rect x="483" y="452" width="3" height="15" fill="#C0C0C0"/>
<rect x="487" y="452" width="3" height="14" fill="#C0C0C0"/>
<rect x="491" y="452" width="3" height="13" fill="#C0C0C0"/>
<rect x="495" y="452" width="3" height="11" fill="#C0C0C0"/>
<rect x="499" y="452" width="3" height="11" fill="#C0C0C0"/>
<rect x="503" y="452" width="3" height="12" fill="#C0C0C0"/>
<rect x="507" y="452" width="3" height="12" fill="#C0C0C0"/>
<rect x="511" y="452" width="3" height="10" fill="#C0C0C0"/>
<rect x="515" y="452" width="3" height="7" fill="#C0C0C0"/>
<rect x="519" y="452" width="3" height="4" fill="#C0C0C0"/>
<rect x="523" y="452" width="3" height="4" fill="#C0C0C0"/>
<rect x="527" y="452" width="3" height="4" fill="#C0C0C0"/>
<rect x="531" y="452" width="3" height="4" fill="#C0C0C0"/>
<rect x="535" y="452" width="3" height="1" fill="#C0C0C0"/>
<rect x="539" y="450" width="3" height="2" fill="#C0C0C0"/>
<rect x="543" y="447" width="3" height="5" fill="#C0C0C0"/>
<rect x="547" y="444" width="3" height="8" fill="#C0C0C0"/>
<rect x="551" y="442" width="3" height="10" fill="#C0C0C0"/>
<rect x="555" y="441" width="3" height="11" fill="#C0C0C0"/>
<rect x="559" y="442" width="3" height="10" fill="#C0C0C0"/>
<rect x="563" y="442" width="3" height="10" fill="#C0C0C0"/>
<rect x="567" y="443" width="3" height="9" fill="#C0C0C0"/>
<rect x="571" y="443" width="3" height="9" fill="#C0C0C0"/>
<rect x="575" y="442" width="3" height="10" fill="#C0C0C0"/>
<rect x="579" y="441" width="3" height="11" fill="#C0C0C0"/>
<rect x="583" y="439" width="3" height="13" fill="#C0C0C0"/>
<rect x="587" y="437" width="3" height="15" fill="#C0C0C0"/>
<rect x="591" y="436" width="3" height="16" fill="#C0C0C0"/>
<rect x="595" y="435" width="3" height="17" fill="#C0C0C0"/>
<rect x="599" y="435" width="3" height="17" fill="#C0C0C0"/>
<rect x="603" y="436" width="3" height="16" fill="#C0C0C0"/>
<rect x="607" y="436" width="3" height="16" fill="#C0C0C0"/>
<rect x="611" y="438" width="3" height="14" fill="#C0C0C0"/>
<rect x="615" y="440" width="3" height="12" fill="#C0C0C0"/>
<rect x="619" y="442" width="3" height="10" fill="#C0C0C0"/>
<rect x="623" y="444" width="3" height="8" fill="#C0C0C0"/>
<rect x="627" y="446" width="3" height="6" fill="#C0C0C0"/>
<rect x="631" y="451" width="3" height="1" fill="#C0C0C0"/>
<rect x="635" y="452" width="3" height="1" fill="#C0C0C0"/>
<rect x="639" y="452" width="3" height="1" fill="#C0C0C0"/>
<rect x="643" y="452" width="3" height="2" fill="#C0C0C0"/>
<rect x="647" y="452" width="3" height="3" fill="#C0C0C0"/>
<rect x="651" y="452" width="3" height="4" fill="#C0C0C0"/>
<rect x="655" y="452" width="3" height="5" fill="#C0C0C0"/>
<rect x="659" y="452" width="3" height="6" fill="#C0C0C0"/>
<rect x="663" y="452" width="3" height="7" fill="#C0C0C0"/>
<rect x="667" y="452" width="3" height="9" fill="#C0C0C0"/>
<rect x="671" y="452" width="3" height="9" fill="#C0C0C0"/>
<rect x="675" y="452" width="3" height="9" fill="#C0C0C0"/>
<rect x="679" y="452" width="3" height="10" fill="#C0C0C0"/>
<rect x="683" y="452" width="3" height="11" fill="#C0C0C0"/>
<rect x="687" y="452" width="3" height="11" fill="#C0C0C0"/>
<rect x="691" y="452" width="3" height="9" fill="#C0C0C0"/>
<rect x="695" y="452" width="3" height="6" fill="#C0C0C0"/>
<rect x="699" y="452" width="3" height="3" fill="#C0C0C0"/>
<rect x="703" y="452" width="3" height="2" fill="#C0C0C0"/>
<rect x="707" y="452" width="3" height="1" fill="#C0C0C0"/>
<rect x="711" y="451" width="3" height="1" fill="#C0C0C0"/>
<rect x="715" y="451" width="3" height="1" fill="#C0C0C0"/>
<rect x="719" y="451" width="3" height="1" fill="#C0C0C0"/>
<rect x="723" y="450" width="3" height="2" fill="#C0C0C0"/>
<rect x="727" y="447" width="3" height="5" fill="#C0C0C0"/>
<rect x="731" y="445" width="3" height="7" fill="#C0C0C0"/>
<rect x="735" y="445" width="3" height="7" fill="#C0C0C0"/>
<rect x="739" y="443" width="3" height="9" fill="#C0C0C0"/>
<rect x="743" y="443" width="3" height="9" fill="#C0C0C0"/>
<rect x="747" y="444" width="3" height="8" fill="#C0C0C0"/>
<rect x="751" y="443" width="3" height="9" fill="#C0C0C0"/>
<rect x="755" y="442" width="3" height="10" fill="#C0C0C0"/>
<rect x="759" y="441" width="3" height="11" fill="#C0C0C0"/>
<rect x="763" y="440" width="3" height="12" fill="#C0C0C0"/>
<rect x="767" y="438" width="3" height="14" fill="#C0C0C0"/>
<rect x="771" y="438" width="3" height="14" fill="#C0C0C0"/>
<rect x="775" y="437" width="3" height="15" fill="#C0C0C0"/>
<rect x="779" y="434" width="3" height="18" fill="#C0C0C0"/>
<rect x="783" y="432" width="3" height="20" fill="#C0C0C0"/>
<rect x="787" y="430" width="3" height="22" fill="#C0C0C0"/>
<rect x="791" y="428" width="3" height="24" fill="#C0C0C0"/>
<rect x="795" y="426" width="3" height="26" fill="#C0C0C0"/>
<rect x="799" y="426" width="3" height="26" fill="#C0C0C0"/>
<rect x="803" y="429" width="3" height="23" fill="#C0C0C0"/>
<rect x="807" y="431" width="3" height="21" fill="#C0C0C0"/>
<rect x="811" y="434" width="3" height="18" fill="#C0C0C0"/>
<rect x="815" y="439" width="3" height="13" fill="#C0C0C0"/>
<rect x="819" y="444" width="3" height="8" fill="#C0C0C0"/>
<rect x="823" y="448" width="3" height="4" fill="#C0C0C0"/>
<rect x="827" y="449" width="3" height="3" fill="#C0C0C0"/>
<rect x="831" y="450" width="3" height="2" fill="#C0C0C0"/>
<rect x="835" y="450" width="3" height="2" fill="#C0C0C0"/>
<rect x="839" y="451" width="3" height="1" fill="#C0C0C0"/>
<rect x="843" y="451" width="3" height="1" fill="#C0C0C0"/>
<rect x="847" y="451" width="3" height="1" fill="#C0C0C0"/>
<rect x="851" y="452" width="3" height="2" fill="#C0C0C0"/>
<rect x="855" y="452" width="3" height="3" fill="#C0C0C0"/>
<rect x="859" y="452" width="3" height="4" fill="#C0C0C0"/>
<rect x="863" y="452" width="3" height="5" fill="#C0C0C0"/>
<rect x="867" y="452" width="3" height="7" fill="#C0C0C0"/>
<rect x="871" y="452" width="3" height="9" fill="#C0C0C0"/>
<rect x="875" y="452" width="3" height="10" fill="#C0C0C0"/>
<rect x="879" y="452" width="3" height="11" fill="#C0C0C0"/>
<rect x="883" y="452" width="3" height="15" fill="#C0C0C0"/>
<rect x="887" y="452" width="3" height="18" fill="#C0C0C0"/>
<rect x="891" y="452" width="3" height="21" fill="#C0C0C0"/>
<rect x="895" y="452" width="3" height="25" fill="#C0C0C0"/>
<rect x="899" y="452" width="3" height="28" fill="#C0C0C0"/>
<rect x="903" y="452" width="3" height="30" fill="#C0C0C0"/>
<rect x="907" y="452" width="3" height="31" fill="#C0C0C0"/>
<rect x="911" y="452" width="3" height="30" fill="#C0C0C0"/>
<rect x="915" y="452" width="3" height="28" fill="#C0C0C0"/>
<rect x="919" y="452" width="3" height="27" fill="#C0C0C0"/>
<rect x="923" y="452" width="3" height="26" fill="#C0C0C0"/>
</g>
<g clip-path="url(#macdclip)">
<polyline points="4.5,472.2 8.5,472.9 12.5,473.8 16.5,474.9 20.5,476.0 24.5,477.0 28.5,478.0 32.5,478.9 36.5,479.6 40.5,479.8 44.5,479.6 48.5,478.8 52.5,477.7 56.5,476.6 60.5,475.1 64.5,473.4 68.5,471.5 72.5,469.5 76.5,467.5 80.5,465.4 84.5,463.2 88.5,460.9 92.5,458.7 96.5,456.8 100.5,455.3 104.5,454.2 108.5,454.0 112.5,454.4 116.5,455.2 120.5,456.6 124.5,458.3 128.5,459.7 132.5,461.0 136.5,462.0 140.5,462.3 144.5,462.0 148.5,460.9 152.5,459.3 156.5,457.3 160.5,454.9 164.5,452.7 168.5,450.6 172.5,448.6 176.5,446.7 180.5,445.4 184.5,444.5 188.5,444.0 192.5,444.1 196.5,444.6 200.5,445.0 204.5,445.3 208.5,445.5 212.5,445.8 216.5,445.7 220.5,445.4 224.5,444.9 228.5,443.9 232.5,442.9 236.5,441.9 240.5,441.3 244.5,441.1 248.5,441.6 252.5,442.6 256.5,444.3 260.5,446.4 264.5,449.0 268.5,451.8 272.5,455.0 276.5,458.4 280.5,462.0 284.5,465.5 288.5,468.9 292.5,472.1 296.5,474.9 300.5,477.2 304.5,479.2 308.5,481.0 312.5,482.1 316.5,482.9 320.5,483.1 324.5,482.9 328.5,482.2 332.5,481.6 336.5,480.8 340.5,479.9 344.5,478.8 348.5,477.9 352.5,476.8 356.5,475.7 360.5,474.7 364.5,473.9 368.5,473.2 372.5,472.6 376.5,472.3 380.5,472.0 384.5,471.6 388.5,470.8 392.5,469.7 396.5,468.2 400.5,466.3 404.5,464.0 408.5,461.3 412.5,458.4 416.5,455.3 420.5,452.2 424.5,449.3 428.5,446.8 432.5,445.0 436.5,443.6 440.5,443.1 444.5,443.3 448.5,444.0 452.5,445.1 456.5,446.6 460.5,448.5 464.5,450.6 468.5,452.7 472.5,454.8 476.5,456.7 480.5,458.4 484.5,460.0 488.5,461.3 492.5,462.4 496.5,463.0 500.5,463.4 504.5,463.8 508.5,464.1 512.5,464.1 516.5,463.5 520.5,462.3 524.5,461.2 528.5,460.3 532.5,459.5 536.5,458.4 540.5,456.9 544.5,455.0 548.5,453.0 552.5,451.1 556.5,449.4 560.5,447.9 564.5,446.4 568.5,445.0 572.5,443.8 576.5,443.0 580.5,442.3 584.5,441.8 588.5,441.2 592.5,440.6 596.5,439.8 600.5,439.0 604.5,438.2 608.5,437.4 612.5,437.0 616.5,437.0 620.5,437.4 624.5,438.2 628.5,439.4 632.5,441.1 636.5,443.0 640.5,445.0 644.5,447.0 648.5,448.8 652.5,450.5 656.5,452.1 660.5,453.6 664.5,455.1 668.5,456.2 672.5,457.2 676.5,458.0 680.5,458.9 684.5,459.9 688.5,460.7 692.5,461.2 696.5,461.2 700.5,460.7 704.5,460.0 708.5,459.1 712.5,458.1 716.5,456.8 720.5,455.6 724.5,454.1 728.5,452.5 732.5,451.1 736.5,449.9 740.5,448.6 744.5,447.5 748.5,446.6 752.5,445.7 756.5,444.6 760.5,443.5 764.5,442.8 768.5,442.0 772.5,441.2 776.5,440.5 780.5,439.5 784.5,438.2 788.5,436.8 792.5,435.2 796.5,433.6 800.5,432.1 804.5,431.0 808.5,430.2 812.5,429.9 816.5,430.5 820.5,431.8 824.5,433.8 828.5,436.2 832.5,438.8 836.5,441.5 840.5,444.0 844.5,446.3 848.5,448.3 852.5,450.0 856.5,451.1 860.5,452.0 864.5,452.9 868.5,454.0 872.5,455.2 876.5,456.4 880.5,457.7 884.5,459.4 888.5,461.3 892.5,463.3 896.5,465.6 900.5,468.1 904.5,470.6 908.5,473.1 912.5,475.4 916.5,477.3 920.5,478.6 924.5,479.4" fill="none" stroke="#FF0000" stroke-width="1" shape-rendering="crispEdges"/>
</g>
<text x="8.3" y="434" font-size="10" fill="#000" font-weight="normal" text-anchor="start" textLength="153" lengthAdjust="spacingAndGlyphs" stroke="#000" stroke-width="0.2">MACD(12,26,9) -0.004544 -0.004737</text>
<g shape-rendering="crispEdges">
<rect x="1167" y="423" width="2" height="1" fill="#000"/>
<rect x="1167" y="452" width="2" height="1" fill="#000"/>
<rect x="1167" y="487" width="2" height="1" fill="#000"/>
</g>
<text x="1171" y="432" font-size="9.8" fill="#000" font-weight="normal" text-anchor="start" textLength="38" lengthAdjust="spacingAndGlyphs" stroke="#000" stroke-width="0.2">0.005076</text>
<text x="1171" y="456" font-size="9.8" fill="#000" font-weight="normal" text-anchor="start" textLength="19" lengthAdjust="spacingAndGlyphs" stroke="#000" stroke-width="0.2">0.00</text>
<text x="1170" y="486" font-size="9.8" fill="#000" font-weight="normal" text-anchor="start" textLength="40" lengthAdjust="spacingAndGlyphs" stroke="#000" stroke-width="0.2">-0.006148</text>
<g shape-rendering="crispEdges">
<line x1="4" y1="517.5" x2="1166" y2="517.5" stroke="#C0C0C0" stroke-width="1" stroke-dasharray="3,3"/>
<line x1="4" y1="550.5" x2="1166" y2="550.5" stroke="#C0C0C0" stroke-width="1" stroke-dasharray="3,3"/>
</g>
<g clip-path="url(#rsiclip)">
<polyline points="4.5,551.0 8.5,553.4 12.5,555.9 16.5,556.1 20.5,548.1 24.5,548.9 28.5,548.7 32.5,546.0 36.5,542.9 40.5,539.7 44.5,541.2 48.5,539.0 52.5,540.2 56.5,540.3 60.5,537.4 64.5,535.0 68.5,533.0 72.5,528.2 76.5,530.0 80.5,528.8 84.5,526.9 88.5,526.6 92.5,533.2 96.5,535.2 100.5,536.8 104.5,540.8 108.5,545.2 112.5,547.2 116.5,548.6 120.5,546.3 124.5,545.2 128.5,536.1 132.5,535.0 136.5,533.7 140.5,527.4 144.5,525.8 148.5,523.7 152.5,522.5 156.5,521.1 160.5,519.3 164.5,532.0 168.5,527.7 172.5,524.9 176.5,523.7 180.5,533.1 184.5,531.4 188.5,533.3 192.5,538.8 196.5,533.2 200.5,531.1 204.5,527.9 208.5,526.2 212.5,525.0 216.5,526.2 220.5,524.1 224.5,523.8 228.5,524.7 232.5,524.5 236.5,525.0 240.5,533.6 244.5,537.3 248.5,540.5 252.5,546.2 256.5,546.2 260.5,546.2 264.5,550.1 268.5,546.1 272.5,549.4 276.5,553.7 280.5,554.4 284.5,555.5 288.5,556.3 292.5,557.3 296.5,545.1 300.5,546.6 304.5,547.1 308.5,550.3 312.5,542.8 316.5,547.7 320.5,541.6 324.5,541.8 328.5,541.3 332.5,542.7 336.5,541.8 340.5,539.2 344.5,542.5 348.5,544.3 352.5,543.2 356.5,538.3 360.5,541.4 364.5,542.7 368.5,544.1 372.5,544.5 376.5,544.7 380.5,546.3 384.5,537.6 388.5,531.5 392.5,528.2 396.5,523.8 400.5,525.6 404.5,522.6 408.5,523.6 412.5,525.7 416.5,523.9 420.5,522.1 424.5,523.3 428.5,526.8 432.5,528.1 436.5,531.0 440.5,538.7 444.5,542.3 448.5,543.0 452.5,541.4 456.5,537.2 460.5,543.0 464.5,542.1 468.5,540.3 472.5,540.7 476.5,542.9 480.5,548.1 484.5,548.7 488.5,537.9 492.5,536.0 496.5,534.7 500.5,539.0 504.5,541.2 508.5,540.3 512.5,533.5 516.5,528.6 520.5,529.0 524.5,534.3 528.5,535.8 532.5,536.2 536.5,526.3 540.5,524.1 544.5,523.1 548.5,521.7 552.5,522.6 556.5,525.8 560.5,531.3 564.5,529.2 568.5,531.1 572.5,528.1 576.5,525.1 580.5,523.7 584.5,521.8 588.5,519.0 592.5,520.5 596.5,522.0 600.5,523.5 604.5,524.3 608.5,525.6 612.5,531.3 616.5,532.5 620.5,533.9 624.5,535.8 628.5,537.1 632.5,546.5 636.5,538.2 640.5,537.6 644.5,537.8 648.5,535.2 652.5,539.3 656.5,540.7 660.5,542.3 664.5,542.5 668.5,544.5 672.5,540.9 676.5,541.7 680.5,544.4 684.5,544.1 688.5,544.7 692.5,531.8 696.5,527.3 700.5,525.1 704.5,530.8 708.5,530.0 712.5,528.9 716.5,530.0 720.5,535.4 724.5,527.0 728.5,520.9 732.5,526.3 736.5,526.6 740.5,523.2 744.5,530.7 748.5,529.9 752.5,527.4 756.5,524.0 760.5,525.3 764.5,523.0 768.5,521.8 772.5,522.8 776.5,520.7 780.5,516.0 784.5,517.8 788.5,515.9 792.5,513.0 796.5,515.6 800.5,518.7 804.5,528.1 808.5,527.8 812.5,532.0 816.5,540.6 820.5,542.0 824.5,542.1 828.5,534.1 832.5,533.5 836.5,534.3 840.5,534.8 844.5,534.2 848.5,535.5 852.5,538.3 856.5,539.0 860.5,540.4 864.5,541.7 868.5,544.9 872.5,542.7 876.5,545.3 880.5,546.1 884.5,553.3 888.5,553.9 892.5,554.9 896.5,557.6 900.5,558.4 904.5,557.8 908.5,558.0 912.5,548.6 916.5,544.2 920.5,545.3 924.5,547.1" fill="none" stroke="#1E90FF" stroke-width="1" shape-rendering="crispEdges"/>
</g>
<text x="8.3" y="504" font-size="10" fill="#000" font-weight="normal" text-anchor="start" textLength="67" lengthAdjust="spacingAndGlyphs" stroke="#000" stroke-width="0.2">RSI(14) 33.1020</text>
<g shape-rendering="crispEdges">
<rect x="1167" y="493" width="2" height="1" fill="#000"/>
<rect x="1167" y="517" width="2" height="1" fill="#000"/>
<rect x="1167" y="550" width="2" height="1" fill="#000"/>
<rect x="1167" y="574" width="2" height="1" fill="#000"/>
</g>
<text x="1171" y="502" font-size="9.8" fill="#000" font-weight="normal" text-anchor="start" textLength="15" lengthAdjust="spacingAndGlyphs" stroke="#000" stroke-width="0.2">100</text>
<text x="1171" y="521" font-size="9.8" fill="#000" font-weight="normal" text-anchor="start" textLength="10" lengthAdjust="spacingAndGlyphs" stroke="#000" stroke-width="0.2">70</text>
<text x="1171" y="554" font-size="9.8" fill="#000" font-weight="normal" text-anchor="start" textLength="10" lengthAdjust="spacingAndGlyphs" stroke="#000" stroke-width="0.2">30</text>
<text x="1171" y="572" font-size="9.8" fill="#000" font-weight="normal" text-anchor="start" textLength="5" lengthAdjust="spacingAndGlyphs" stroke="#000" stroke-width="0.2">0</text>
<defs>
<linearGradient id="gtab" x1="0" y1="0" x2="0" y2="1"><stop offset="0" stop-color="#5A5AFF"/><stop offset="1" stop-color="#3434E8"/></linearGradient>
<linearGradient id="gbox" x1="0" y1="0" x2="0" y2="1"><stop offset="0" stop-color="#3434E8"/><stop offset="1" stop-color="#0000B4"/></linearGradient>
<linearGradient id="gboxu" gradientUnits="userSpaceOnUse" x1="0" y1="66" x2="0" y2="106"><stop offset="0" stop-color="#3434E8"/><stop offset="1" stop-color="#0000B4"/></linearGradient>
<linearGradient id="gbtn" x1="0" y1="0" x2="0" y2="1"><stop offset="0" stop-color="#F2F2F2"/><stop offset="0.5" stop-color="#E6E6E6"/><stop offset="1" stop-color="#D4D4D4"/></linearGradient>
</defs>
<g shape-rendering="crispEdges">
<rect x="5" y="40" width="223" height="68" fill="#FFFFFF"/>
<rect x="7" y="42" width="52" height="24" fill="url(#gtab)"/>
<rect x="7" y="66" width="109" height="40" fill="url(#gbox)"/>
<rect x="174" y="42" width="52" height="24" fill="url(#gtab)"/>
<rect x="118" y="66" width="108" height="40" fill="url(#gbox)"/>
<rect x="58" y="42" width="1" height="25" fill="#0000A0"/>
<rect x="58" y="66" width="58" height="1" fill="#0000A0"/>
<rect x="115" y="66" width="1" height="40" fill="#0000A0"/>
<rect x="118" y="66" width="1" height="40" fill="#0000A0"/>
<rect x="118" y="66" width="57" height="1" fill="#0000A0"/>
<rect x="174" y="42" width="1" height="25" fill="#0000A0"/>
<rect x="11" y="65" width="44" height="1" fill="#0A0A90"/>
<rect x="11" y="66" width="44" height="1" fill="#8C8CFF"/>
<rect x="178" y="65" width="44" height="1" fill="#0A0A90"/>
<rect x="178" y="66" width="44" height="1" fill="#8C8CFF"/>
<rect x="61" y="42" width="111" height="22" fill="#C8C8C8"/>
<rect x="62" y="43" width="109" height="20" fill="#FFFFFF"/>
<rect x="62" y="43" width="20" height="20" fill="url(#gbtn)"/>
<rect x="151" y="43" width="20" height="20" fill="url(#gbtn)"/>
<rect x="82" y="43" width="1" height="20" fill="#C8C8C8"/>
<rect x="150" y="43" width="1" height="20" fill="#C8C8C8"/>
</g>
<polygon points="69.5,52 74.5,52 72,55" fill="#4A5AC8"/>
<polygon points="158.5,55 163.5,55 161,52" fill="#4A5AC8"/>
<text x="146.5" y="57" font-size="12" fill="#000" font-weight="normal" text-anchor="end">5.00</text>
<text x="19.8" y="57.8" font-size="12" fill="#FFFFFF" font-weight="normal" text-anchor="start" textLength="25" lengthAdjust="spacingAndGlyphs">SELL</text>
<text x="187.8" y="57.8" font-size="12" fill="#FFFFFF" font-weight="normal" text-anchor="start" textLength="22.8" lengthAdjust="spacingAndGlyphs">BUY</text>
<text x="27.3" y="96.8" font-size="12.5" fill="#FFFFFF" font-weight="bold" text-anchor="start" textLength="22.4" lengthAdjust="spacingAndGlyphs">0.67</text>
<text x="55.5" y="97" font-size="34" fill="#FFFFFF" font-weight="normal" text-anchor="start" textLength="33.5" lengthAdjust="spacingAndGlyphs" stroke="url(#gboxu)" stroke-width="0.5">21</text>
<text x="94.6" y="80.8" font-size="12" fill="#FFFFFF" font-weight="bold" text-anchor="start" textLength="6" lengthAdjust="spacingAndGlyphs">9</text>
<text x="137.3" y="96.8" font-size="12.5" fill="#FFFFFF" font-weight="bold" text-anchor="start" textLength="22.4" lengthAdjust="spacingAndGlyphs">0.67</text>
<text x="166.1" y="97" font-size="34" fill="#FFFFFF" font-weight="normal" text-anchor="start" textLength="33.5" lengthAdjust="spacingAndGlyphs" stroke="url(#gboxu)" stroke-width="0.5">23</text>
<text x="205.2" y="80.8" font-size="12" fill="#FFFFFF" font-weight="bold" text-anchor="start" textLength="6" lengthAdjust="spacingAndGlyphs">8</text>
<rect x="0" y="599" width="1214" height="19" fill="#F0F0F0"/>
<g shape-rendering="crispEdges">
<rect x="0" y="599" width="1" height="19" fill="#6E6E6E"/>
<rect x="1" y="599" width="1" height="19" fill="#FFFFFF"/>
<rect x="109" y="598" width="1" height="19" fill="#000"/>
<rect x="110" y="599" width="102" height="17" fill="#FFFFFF"/>
<rect x="212" y="598" width="1" height="19" fill="#000"/>
<rect x="109" y="616" width="104" height="1" fill="#000"/>
<rect x="313" y="602" width="1" height="12" fill="#606060"/>
<rect x="417" y="602" width="1" height="12" fill="#606060"/>
<rect x="521" y="602" width="1" height="12" fill="#606060"/>
<rect x="625" y="602" width="1" height="12" fill="#606060"/>
<rect x="693" y="602" width="1" height="12" fill="#606060"/>
<rect x="789" y="602" width="1" height="12" fill="#606060"/>
<rect x="889" y="602" width="1" height="12" fill="#606060"/>
<rect x="993" y="602" width="1" height="12" fill="#606060"/>
<rect x="1085" y="602" width="1" height="12" fill="#606060"/>
</g>
<text x="17.5" y="612.5" font-size="12" fill="#777" font-weight="normal" text-anchor="start" textLength="79.5" lengthAdjust="spacingAndGlyphs">EURUSD,Daily</text>
<text x="120.3" y="612.5" font-size="12" fill="#000" font-weight="normal" text-anchor="start" textLength="81.5" lengthAdjust="spacingAndGlyphs">AUDUSD,Daily</text>
<text x="223" y="612.5" font-size="12" fill="#777" font-weight="normal" text-anchor="start" textLength="79" lengthAdjust="spacingAndGlyphs">USDCHF,Daily</text>
<text x="324.7" y="612.5" font-size="12" fill="#777" font-weight="normal" text-anchor="start" textLength="80" lengthAdjust="spacingAndGlyphs">USDCAD,Daily</text>
<text x="427.8" y="612.5" font-size="12" fill="#777" font-weight="normal" text-anchor="start" textLength="82" lengthAdjust="spacingAndGlyphs">USDCNH,Daily</text>
<text x="532.3" y="612.5" font-size="12" fill="#777" font-weight="normal" text-anchor="start" textLength="80.7" lengthAdjust="spacingAndGlyphs">XAUUSD,Daily</text>
<text x="635.4" y="612.5" font-size="12" fill="#777" font-weight="normal" text-anchor="start" textLength="47" lengthAdjust="spacingAndGlyphs">DJ30,H4</text>
<text x="705.7" y="612.5" font-size="12" fill="#777" font-weight="normal" text-anchor="start" textLength="71" lengthAdjust="spacingAndGlyphs">USDOil,Daily</text>
<text x="799.3" y="612.5" font-size="12" fill="#777" font-weight="normal" text-anchor="start" textLength="78.4" lengthAdjust="spacingAndGlyphs">USDCHF,Daily</text>
<text x="900.8" y="612.5" font-size="12" fill="#777" font-weight="normal" text-anchor="start" textLength="79.7" lengthAdjust="spacingAndGlyphs">GBPUSD,Daily</text>
<text x="1005.5" y="612.5" font-size="12" fill="#777" font-weight="normal" text-anchor="start" textLength="66.5" lengthAdjust="spacingAndGlyphs">EURUSD,H1</text>
<text x="1096" y="612.5" font-size="12" fill="#777" font-weight="normal" text-anchor="start" textLength="68.7" lengthAdjust="spacingAndGlyphs">GBPAUD,H1</text>
<polygon points="1185.6,603.5 1185.6,611 1181,607.2" fill="#A0A0A0"/>
<polygon points="1200,603.5 1200,611 1204.7,607.2" fill="#000"/></svg>
</body></html>
